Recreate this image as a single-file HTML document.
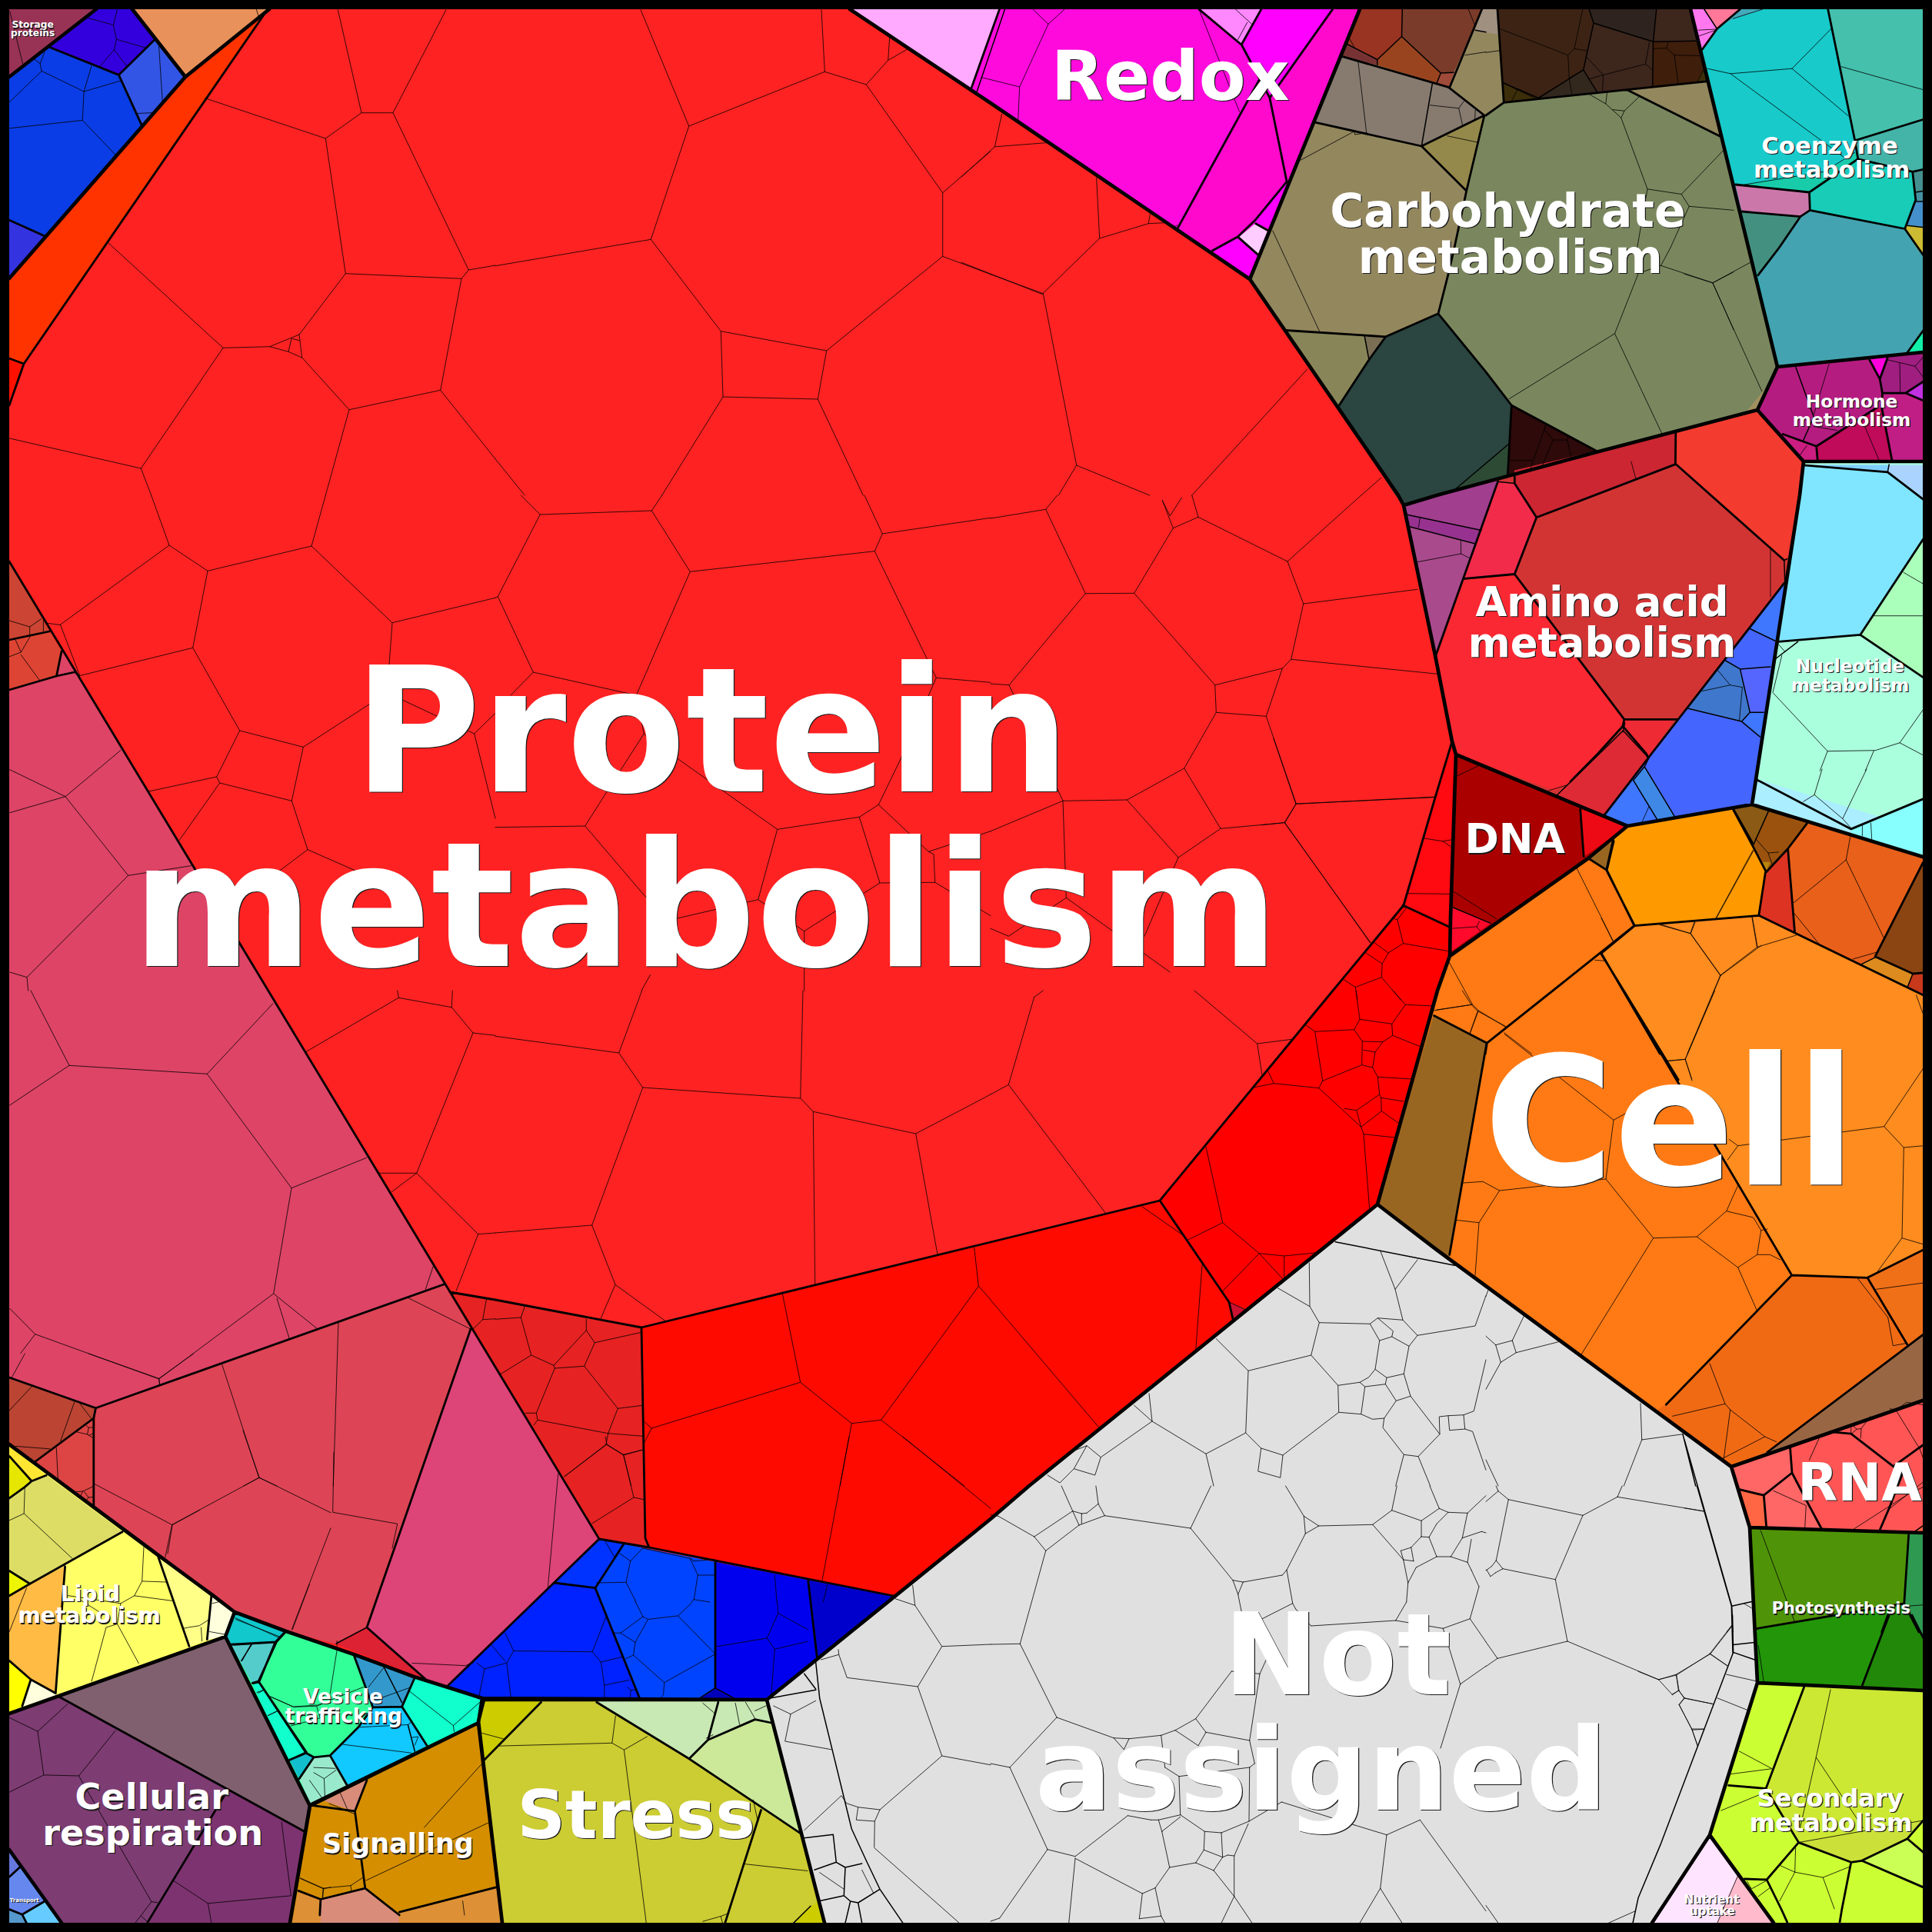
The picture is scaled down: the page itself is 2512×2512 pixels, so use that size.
<!DOCTYPE html><html><head><meta charset="utf-8"><title>Voronoi treemap</title><style>html,body{margin:0;padding:0;background:#000}svg{display:block}text{font-family:"DejaVu Sans","Liberation Sans",sans-serif;font-weight:bold;fill:#fff;text-anchor:middle}</style></head><body>
<svg width="2512" height="2512" viewBox="0 0 2512 2512">
<rect width="2512" height="2512" fill="#000"/>
<g stroke-linejoin="round">
<polygon fill="#FF2222" stroke="#FF2222" stroke-width="1" points="350.0,12.0 1105.0,12.0 1288.0,134.0 1625.0,363.0 1818.0,644.0 1825.0,657.0 1866.0,852.0 1888.0,964.0 1893.0,981.0 1886.0,1194.0 1885.0,1243.0 1869.0,1288.0 1791.0,1566.0 1338.0,1932.0 1288.0,1975.0 997.0,2210.0 627.0,2208.0 538.0,2180.0 460.0,2151.0 372.0,2121.0 305.0,2096.0 277.0,2074.5 207.0,2023.0 158.0,1986.5 60.0,1913.7 12.0,1878.0 12.0,362.0 241.0,100.0"/>
<polygon fill="#993355" stroke="#993355" stroke-width="1" points="12.0,12.0 125.0,12.0 12.0,100.0"/>
<polygon fill="#0A3DE5" stroke="#0A3DE5" stroke-width="1" points="125.0,12.0 172.0,12.0 241.0,100.0 12.0,362.0 12.0,100.0"/>
<polygon fill="#E8915A" stroke="#E8915A" stroke-width="1" points="172.0,12.0 350.0,12.0 241.0,100.0"/>
<polygon fill="#FF0ADD" stroke="#FF0ADD" stroke-width="1" points="1105.0,12.0 1768.0,12.0 1625.0,363.0 1288.0,134.0"/>
<polygon fill="#7A875E" stroke="#7A875E" stroke-width="1" points="1768.0,12.0 2198.0,12.0 2311.0,477.0 2285.0,533.0 2075.0,588.0 1868.0,644.0 1825.0,657.0 1818.0,644.0 1625.0,363.0"/>
<polygon fill="#18CACA" stroke="#18CACA" stroke-width="1" points="2198.0,12.0 2500.0,12.0 2500.0,458.0 2311.0,477.0"/>
<polygon fill="#B51C80" stroke="#B51C80" stroke-width="1" points="2311.0,477.0 2500.0,458.0 2500.0,600.0 2345.0,600.0 2285.0,533.0"/>
<polygon fill="#D23434" stroke="#D23434" stroke-width="1" points="1825.0,657.0 1868.0,644.0 2075.0,588.0 2285.0,533.0 2345.0,600.0 2340.0,644.0 2278.0,1046.0 2116.0,1074.0 1893.0,981.0 1888.0,964.0 1866.0,852.0"/>
<polygon fill="#AAFFDD" stroke="#AAFFDD" stroke-width="1" points="2345.0,600.0 2500.0,600.0 2500.0,1114.0 2278.0,1046.0 2340.0,644.0"/>
<polygon fill="#AA0000" stroke="#AA0000" stroke-width="1" points="1893.0,981.0 2116.0,1074.0 2065.0,1116.0 1885.0,1243.0 1886.0,1194.0"/>
<polygon fill="#FF7A14" stroke="#FF7A14" stroke-width="1" points="1885.0,1243.0 2065.0,1116.0 2116.0,1074.0 2278.0,1046.0 2500.0,1114.0 2500.0,1821.0 2251.0,1907.0 1868.0,1625.0 1791.0,1566.0 1869.0,1288.0"/>
<polygon fill="#FF5555" stroke="#FF5555" stroke-width="1" points="2251.0,1907.0 2500.0,1821.0 2500.0,1993.0 2275.0,1986.0"/>
<polygon fill="#4F9408" stroke="#4F9408" stroke-width="1" points="2275.0,1986.0 2500.0,1993.0 2500.0,2198.0 2285.0,2188.0"/>
<polygon fill="#CCFF33" stroke="#CCFF33" stroke-width="1" points="2285.0,2188.0 2500.0,2198.0 2500.0,2500.0 2306.0,2500.0 2223.0,2386.0"/>
<polygon fill="#FFE4FF" stroke="#FFE4FF" stroke-width="1" points="2223.0,2386.0 2306.0,2500.0 2148.0,2500.0"/>
<polygon fill="#E0E0E0" stroke="#E0E0E0" stroke-width="1" points="1791.0,1566.0 1868.0,1625.0 2251.0,1907.0 2275.0,1986.0 2285.0,2188.0 2223.0,2386.0 2148.0,2500.0 1072.0,2500.0 997.0,2210.0 1288.0,1975.0 1338.0,1932.0"/>
<polygon fill="#CCCC33" stroke="#CCCC33" stroke-width="1" points="997.0,2210.0 1072.0,2500.0 653.0,2500.0 622.0,2238.0 629.0,2210.0"/>
<polygon fill="#D48E00" stroke="#D48E00" stroke-width="1" points="622.0,2240.0 653.0,2500.0 377.0,2500.0 403.0,2347.0"/>
<polygon fill="#33FF99" stroke="#33FF99" stroke-width="1" points="305.0,2096.0 372.0,2121.0 460.0,2151.0 538.0,2180.0 627.0,2208.0 622.0,2240.0 403.0,2348.0 293.0,2128.0"/>
<polygon fill="#FFFF66" stroke="#FFFF66" stroke-width="1" points="12.0,1878.0 60.0,1913.7 158.0,1986.5 207.0,2023.0 277.0,2074.5 305.0,2096.0 293.0,2128.0 12.0,2228.0"/>
<polygon fill="#7D3C72" stroke="#7D3C72" stroke-width="1" points="12.0,2228.0 293.0,2128.0 403.0,2348.0 377.0,2500.0 80.0,2500.0 12.0,2405.0"/>
<polygon fill="#6688EE" stroke="#6688EE" stroke-width="1" points="12.0,2405.0 80.0,2500.0 12.0,2500.0"/>
<polygon fill="#FF3300" stroke="#FF3300" stroke-width="1" points="348.0,12.0 241.0,100.0 12.0,362.0 12.0,465.0 31.0,473.0"/>
<polygon fill="#FF1100" stroke="#FF1100" stroke-width="1" points="12.0,465.0 31.0,473.0 12.0,527.0"/>
<polygon fill="#CC4433" stroke="#CC4433" stroke-width="1" points="12.0,731.0 12.0,832.0 64.0,821.0"/>
<polygon fill="#DD4433" stroke="#DD4433" stroke-width="1" points="12.0,832.0 64.0,821.0 80.0,847.0 73.5,879.0 12.0,897.0"/>
<polygon fill="#DD4466" stroke="#DD4466" stroke-width="1" points="80.0,847.0 97.0,874.0 73.5,879.0"/>
<polygon fill="#DD4466" stroke="#DD4466" stroke-width="1" points="12.0,897.0 75.0,879.0 98.0,873.0 577.0,1670.0 123.0,1830.0 12.0,1791.0"/>
<polygon fill="#DD4455" stroke="#DD4455" stroke-width="1" points="124.5,1830.7 577.0,1670.0 612.0,1728.0 477.0,2116.0 437.0,2137.0 372.0,2121.0 305.0,2096.0 277.0,2074.5 207.0,2023.0 158.0,1986.5 121.8,1959.0"/>
<polygon fill="#BB4433" stroke="#BB4433" stroke-width="1" points="12.0,1791.0 124.5,1830.7 121.8,1844.0 45.0,1902.0 12.0,1878.0"/>
<polygon fill="#DD4444" stroke="#DD4444" stroke-width="1" points="121.8,1844.0 121.8,1959.0 60.0,1913.7 45.0,1902.0"/>
<polygon fill="#DD4477" stroke="#DD4477" stroke-width="1" points="612.0,1728.0 779.0,2001.0 582.0,2192.0 553.0,2183.0 477.0,2116.0"/>
<polygon fill="#DD2233" stroke="#DD2233" stroke-width="1" points="477.0,2116.0 437.0,2137.0 553.0,2183.0"/>
<polygon fill="#E62222" stroke="#E62222" stroke-width="1" points="585.0,1680.0 644.0,1690.0 834.0,1726.0 839.0,2000.0 844.0,2012.0 779.0,2001.0"/>
<polygon fill="#FF0A00" stroke="#FF0A00" stroke-width="1" points="834.0,1726.0 1288.0,1615.0 1508.0,1561.0 1598.0,1693.0 1603.0,1715.0 1338.0,1932.0 1288.0,1975.0 1162.0,2075.0 844.0,2012.0 839.0,2000.0"/>
<polygon fill="#FF0000" stroke="#FF0000" stroke-width="1" points="1508.0,1561.0 1733.0,1288.0 1825.0,1177.0 1866.0,1037.0 1888.0,964.0 1893.0,981.0 1886.0,1194.0 1885.0,1243.0 1869.0,1288.0 1791.0,1566.0 1603.0,1715.0 1598.0,1693.0"/>
<polygon fill="#0033FF" stroke="#0033FF" stroke-width="1" points="779.0,2001.3 810.7,2008.0 774.0,2064.7 720.7,2058.0"/>
<polygon fill="#0022FF" stroke="#0022FF" stroke-width="1" points="720.7,2058.0 774.0,2064.7 832.3,2209.7 624.0,2209.7 580.7,2194.7 644.0,2131.3"/>
<polygon fill="#0044FF" stroke="#0044FF" stroke-width="1" points="810.7,2008.0 930.0,2031.3 930.0,2194.7 907.3,2209.7 832.3,2209.7 774.0,2064.7"/>
<polygon fill="#0000EE" stroke="#0000EE" stroke-width="1" points="930.0,2031.3 1050.7,2054.7 1062.3,2154.7 997.3,2209.7 957.3,2209.7 930.0,2194.7"/>
<polygon fill="#0000CC" stroke="#0000CC" stroke-width="1" points="1050.7,2054.7 1162.3,2074.7 1062.3,2154.7"/>
<polygon fill="#0000BB" stroke="#0000BB" stroke-width="1" points="907.3,2209.7 930.0,2194.7 957.3,2209.7"/>
<polygon fill="#3300DD" stroke="#3300DD" stroke-width="1" points="125.9,12.2 171.1,12.2 200.6,52.1 154.4,97.4 65.9,62.0"/>
<polygon fill="#3355E5" stroke="#3355E5" stroke-width="1" points="200.6,52.1 240.9,99.3 184.9,164.2 154.4,97.4"/>
<polygon fill="#3333E0" stroke="#3333E0" stroke-width="1" points="12.2,286.2 60.0,307.8 12.2,362.9"/>
<polygon fill="#93875E" stroke="#93875E" stroke-width="1" points="1766.7,12.0 1932.0,12.0 1932.0,150.0 1906.7,248.3 1893.3,322.0 1870.0,407.8 1801.7,437.8 1672.5,429.5 1625.8,362.0"/>
<polygon fill="#993322" stroke="#993322" stroke-width="1" points="1766.7,12.0 1823.3,12.0 1822.5,47.5 1790.8,77.5 1750.8,56.7"/>
<polygon fill="#773333" stroke="#773333" stroke-width="1" points="1750.8,56.7 1790.8,77.5 1790.8,84.2 1745.0,73.3 1743.3,71.7"/>
<polygon fill="#99441F" stroke="#99441F" stroke-width="1" points="1822.5,47.5 1873.3,95.0 1868.3,107.5 1790.8,84.2 1790.8,77.5"/>
<polygon fill="#7A3B2A" stroke="#7A3B2A" stroke-width="1" points="1823.3,12.0 1926.7,12.0 1890.0,94.2 1873.3,95.0 1822.5,47.5"/>
<polygon fill="#A04A3A" stroke="#A04A3A" stroke-width="1" points="1873.3,95.0 1890.0,94.2 1883.3,113.3 1868.3,107.5"/>
<polygon fill="#A09080" stroke="#A09080" stroke-width="1" points="1926.7,12.0 1947.0,12.0 1947.8,45.0 1932.0,42.5 1918.3,39.2"/>
<polygon fill="#877B70" stroke="#877B70" stroke-width="1" points="1745.0,73.3 1883.3,113.3 1930.0,150.0 1848.3,190.0 1710.0,159.2"/>
<polygon fill="#94894B" stroke="#94894B" stroke-width="1" points="1848.3,190.0 1930.0,150.0 1906.7,248.3"/>
<polygon fill="#7A875E" stroke="#7A875E" stroke-width="1" points="1932.0,150.0 1955.3,133.3 2117.0,117.5 2237.0,177.5 2311.0,477.0 2285.0,533.0 2077.0,587.0 1965.3,527.0 1932.0,483.7 1870.0,407.8 1883.3,355.3 1893.3,322.0 1906.7,248.3 1930.0,150.0"/>
<polygon fill="#93875E" stroke="#93875E" stroke-width="1" points="1930.3,42.5 1947.8,45.0 1955.3,133.3 1930.3,150.8"/>
<polygon fill="#3D2314" stroke="#3D2314" stroke-width="1" points="1947.0,12.0 2197.0,12.0 2218.7,105.8 1955.3,133.3"/>
<polygon fill="#2E231F" stroke="#2E231F" stroke-width="1" points="2066.2,12.0 2153.7,12.0 2149.5,54.2 2072.0,30.0"/>
<polygon fill="#3D261C" stroke="#3D261C" stroke-width="1" points="2072.0,30.0 2149.5,54.2 2148.7,111.7 2076.2,119.2 2058.7,90.8"/>
<polygon fill="#3D261C" stroke="#3D261C" stroke-width="1" points="2153.7,12.0 2197.0,12.0 2205.3,53.3 2149.5,54.2"/>
<polygon fill="#3F1E0B" stroke="#3F1E0B" stroke-width="1" points="2149.5,54.2 2205.3,53.3 2215.3,90.0 2218.7,105.8 2148.7,111.7"/>
<polygon fill="#33281E" stroke="#33281E" stroke-width="1" points="2058.7,90.8 2076.2,119.2 2000.3,127.5"/>
<polygon fill="#3D2E0A" stroke="#3D2E0A" stroke-width="1" points="1955.3,108.3 2000.3,127.5 1955.3,133.3"/>
<polygon fill="#3D2E0A" stroke="#3D2E0A" stroke-width="1" points="2215.3,90.0 2218.7,105.8 2207.0,106.7"/>
<polygon fill="#93875E" stroke="#93875E" stroke-width="1" points="2117.0,117.5 2218.7,106.7 2237.0,177.5"/>
<polygon fill="#2B4540" stroke="#2B4540" stroke-width="1" points="1801.7,437.8 1870.0,407.8 1932.0,483.7 1965.3,527.0 1960.3,618.7 1860.0,644.5 1825.0,657.0 1815.0,644.0 1740.0,528.7 1780.0,467.8"/>
<polygon fill="#888558" stroke="#888558" stroke-width="1" points="1672.5,429.5 1774.2,437.0 1780.0,467.8 1740.0,528.7"/>
<polygon fill="#7A6F55" stroke="#7A6F55" stroke-width="1" points="1774.2,437.0 1801.7,437.8 1780.0,467.8"/>
<polygon fill="#2E0A0A" stroke="#2E0A0A" stroke-width="1" points="1965.3,527.0 2077.0,587.0 1960.3,618.7"/>
<polygon fill="#2D4A35" stroke="#2D4A35" stroke-width="1" points="1962.0,577.0 1960.3,618.7 1892.0,637.0 1893.3,635.3"/>
<polygon fill="#FFAAFF" stroke="#FFAAFF" stroke-width="1" points="1104.7,12.1 1299.5,12.1 1263.1,114.1"/>
<polygon fill="#FF88FF" stroke="#FF88FF" stroke-width="1" points="1562.0,12.1 1639.8,12.1 1614.5,57.5"/>
<polygon fill="#FF00FF" stroke="#FF00FF" stroke-width="1" points="1639.8,12.1 1732.6,12.1 1650.9,127.2 1614.5,58.5"/>
<polygon fill="#FF0ACC" stroke="#FF0ACC" stroke-width="1" points="1732.6,12.1 1764.9,12.1 1674.1,236.2 1673.1,236.2 1650.9,127.2"/>
<polygon fill="#FF0ACC" stroke="#FF0ACC" stroke-width="1" points="1614.5,58.5 1650.9,127.2 1673.1,236.2 1631.7,286.6 1609.5,307.8 1576.2,326.0 1531.8,295.7 1637.9,102.7"/>
<polygon fill="#FF00FF" stroke="#FF00FF" stroke-width="1" points="1673.1,237.2 1651.9,296.7 1632.7,289.7 1631.7,286.6"/>
<polygon fill="#FFCCFF" stroke="#FFCCFF" stroke-width="1" points="1632.7,290.7 1648.8,299.8 1636.7,331.1 1610.5,308.9"/>
<polygon fill="#FF00FF" stroke="#FF00FF" stroke-width="1" points="1576.2,326.0 1609.5,308.4 1636.7,332.1 1625.6,361.3"/>
<polygon fill="#FF77EE" stroke="#FF77EE" stroke-width="1" points="2198.3,12.0 2216.7,12.0 2232.5,37.5 2213.3,64.2"/>
<polygon fill="#FF7799" stroke="#FF7799" stroke-width="1" points="2216.7,12.0 2262.5,12.0 2232.5,37.0"/>
<polygon fill="#44AABB" stroke="#44AABB" stroke-width="1" points="2262.5,12.0 2291.7,12.0 2253.3,24.2 2240.0,31.7"/>
<polygon fill="#44C0AC" stroke="#44C0AC" stroke-width="1" points="2376.7,12.0 2501.7,12.0 2501.7,155.0 2412.5,182.5"/>
<polygon fill="#44B3A8" stroke="#44B3A8" stroke-width="1" points="2412.5,182.5 2501.7,155.0 2501.7,220.0 2486.7,223.3 2415.0,206.7"/>
<polygon fill="#18CCAA" stroke="#18CCAA" stroke-width="1" points="2268.3,240.0 2371.7,223.3 2398.3,209.2 2411.7,198.3 2415.0,207.5 2352.5,250.0"/>
<polygon fill="#18CCB8" stroke="#18CCB8" stroke-width="1" points="2352.5,250.0 2415.0,207.5 2486.7,223.3 2490.8,260.0 2476.7,297.5 2353.3,273.3"/>
<polygon fill="#CC77AA" stroke="#CC77AA" stroke-width="1" points="2256.7,240.0 2352.5,250.0 2353.3,273.3 2340.8,281.7 2265.0,275.0"/>
<polygon fill="#449080" stroke="#449080" stroke-width="1" points="2265.0,275.0 2340.8,281.7 2313.3,322.0 2285.8,357.8 2273.3,322.0"/>
<polygon fill="#44A3B0" stroke="#44A3B0" stroke-width="1" points="2340.8,281.7 2353.3,273.3 2476.7,297.5 2501.7,333.3 2501.7,428.3 2480.0,458.3 2311.7,475.3 2285.8,357.8 2313.3,322.0"/>
<polygon fill="#449090" stroke="#449090" stroke-width="1" points="2486.7,223.3 2501.7,220.0 2501.7,248.3 2490.0,250.0"/>
<polygon fill="#4490A0" stroke="#4490A0" stroke-width="1" points="2490.0,250.0 2501.7,248.3 2501.7,262.5 2491.3,262.0"/>
<polygon fill="#4490CC" stroke="#4490CC" stroke-width="1" points="2491.3,262.0 2501.7,262.0 2501.7,295.8 2480.0,293.3 2477.0,297.5"/>
<polygon fill="#CCBB33" stroke="#CCBB33" stroke-width="1" points="2477.0,297.5 2480.0,293.3 2501.7,295.8 2501.7,334.2 2492.5,322.0"/>
<polygon fill="#11EEAA" stroke="#11EEAA" stroke-width="1" points="2480.0,458.3 2501.7,429.2 2501.7,456.7"/>
<polygon fill="#FF00DD" stroke="#FF00DD" stroke-width="1" points="2430.8,467.8 2454.2,465.3 2444.2,492.8"/>
<polygon fill="#A01E80" stroke="#A01E80" stroke-width="1" points="2454.2,465.3 2501.7,460.3 2501.7,495.3 2477.5,511.2 2447.5,511.2 2444.2,492.8"/>
<polygon fill="#C030E0" stroke="#C030E0" stroke-width="1" points="2480.0,512.0 2501.7,497.8 2501.7,521.2"/>
<polygon fill="#C01E85" stroke="#C01E85" stroke-width="1" points="2447.5,511.2 2477.5,513.7 2501.7,523.7 2501.7,599.5 2460.0,597.8 2446.7,530.3"/>
<polygon fill="#C00A5A" stroke="#C00A5A" stroke-width="1" points="2361.7,580.3 2440.0,530.3 2446.7,530.3 2460.0,599.5 2363.3,599.5"/>
<polygon fill="#CC1E80" stroke="#CC1E80" stroke-width="1" points="2318.3,564.5 2360.0,580.3 2361.7,599.5 2343.3,599.5"/>
<polygon fill="#A09060" stroke="#A09060" stroke-width="1" points="2271.7,534.5 2298.3,502.0 2285.0,534.5"/>
<polygon fill="#CC2633" stroke="#CC2633" stroke-width="1" points="1969.3,612.0 2178.7,562.0 2178.7,603.7 1997.8,672.8 1969.3,628.5"/>
<polygon fill="#F43B30" stroke="#F43B30" stroke-width="1" points="2178.7,562.0 2285.0,534.5 2343.3,602.0 2340.0,644.0 2322.8,728.5 2319.8,728.5 2178.7,603.7"/>
<polygon fill="#A13E8E" stroke="#A13E8E" stroke-width="1" points="1823.8,656.1 1947.7,625.6 1926.0,689.5 1829.7,669.2"/>
<polygon fill="#983290" stroke="#983290" stroke-width="1" points="1829.7,669.2 1926.0,689.5 1919.2,707.2 1830.7,684.2"/>
<polygon fill="#A94A8C" stroke="#A94A8C" stroke-width="1" points="1830.7,684.2 1919.2,707.2 1867.0,851.8"/>
<polygon fill="#F22B4B" stroke="#F22B4B" stroke-width="1" points="1947.7,625.6 1969.3,628.5 1997.8,672.8 1969.3,746.5 1904.4,752.4"/>
<polygon fill="#FA2832" stroke="#FA2832" stroke-width="1" points="1904.4,752.4 1969.3,746.5 2111.9,935.4 2109.9,944.2 2077.5,980.0 2042.1,1016.0 2021.4,1027.8 1894.6,980.0 1868.0,853.7"/>
<polygon fill="#4466FF" stroke="#4466FF" stroke-width="1" points="2319.8,759.2 2288.2,982.0 2276.3,1045.9 2116.2,1073.5 2086.1,1059.7 2145.8,982.0"/>
<polygon fill="#3F77FF" stroke="#3F77FF" stroke-width="1" points="2319.8,759.2 2314.9,797.7 2308.0,833.3 2275.3,817.5"/>
<polygon fill="#5566FF" stroke="#5566FF" stroke-width="1" points="2262.5,869.9 2302.0,866.9 2293.1,926.2 2275.3,926.2"/>
<polygon fill="#3F77CC" stroke="#3F77CC" stroke-width="1" points="2243.7,859.0 2262.5,869.9 2275.3,926.2 2264.5,938.1 2195.2,921.3"/>
<polygon fill="#3F77FF" stroke="#3F77FF" stroke-width="1" points="2275.3,926.2 2293.1,926.2 2288.2,957.9 2264.5,938.1"/>
<polygon fill="#80E6FF" stroke="#80E6FF" stroke-width="1" points="2345.5,604.9 2454.3,613.8 2500.7,649.4 2500.7,700.8 2418.7,825.4 2311.9,834.3"/>
<polygon fill="#80D0FF" stroke="#80D0FF" stroke-width="1" points="2345.5,604.9 2455.3,604.9 2454.3,613.4"/>
<polygon fill="#AAD4FF" stroke="#AAD4FF" stroke-width="1" points="2456.2,604.9 2501.7,604.9 2501.7,648.4 2455.3,613.8"/>
<polygon fill="#AAFFBB" stroke="#AAFFBB" stroke-width="1" points="2501.7,701.8 2501.7,880.8 2418.7,825.4"/>
<polygon fill="#DD2A35" stroke="#DD2A35" stroke-width="1" points="2024.7,1033.5 2110.4,950.0 2142.7,984.5 2085.9,1059.1"/>
<polygon fill="#EE2A35" stroke="#EE2A35" stroke-width="1" points="2111.9,935.3 2176.0,935.3 2142.7,984.5 2110.4,950.0"/>
<polygon fill="#3F77FF" stroke="#3F77FF" stroke-width="1" points="2123.7,1014.6 2154.9,1065.8 2116.0,1073.5 2085.9,1059.1"/>
<polygon fill="#4088E5" stroke="#4088E5" stroke-width="1" points="2123.7,1014.6 2138.2,996.8 2177.2,1061.3 2154.9,1065.8"/>
<polygon fill="#AAEEFF" stroke="#AAEEFF" stroke-width="1" points="2282.9,1013.4 2291.8,1015.7 2501.0,1080.2 2501.0,1115.8 2278.4,1045.7"/>
<polygon fill="#EE0A14" stroke="#EE0A14" stroke-width="1" points="2054.7,1052.4 2116.0,1073.5 2059.2,1113.6"/>
<polygon fill="#FF0A2D" stroke="#FF0A2D" stroke-width="1" points="1887.8,1179.3 1937.9,1200.4 1887.8,1236.0"/>
<polygon fill="#996622" stroke="#996622" stroke-width="1" points="2064.8,1115.8 2098.1,1093.6 2089.2,1131.4"/>
<polygon fill="#FF9900" stroke="#FF9900" stroke-width="1" points="2098.1,1093.6 2116.0,1073.5 2253.9,1052.4 2278.4,1095.8 2302.9,1141.4 2287.3,1190.4 2124.9,1203.7 2089.2,1131.4"/>
<polygon fill="#8B5A14" stroke="#8B5A14" stroke-width="1" points="2253.9,1052.4 2276.2,1045.7 2327.4,1061.3 2305.1,1109.2 2289.6,1115.8 2278.4,1095.8"/>
<polygon fill="#FF8C1E" stroke="#FF8C1E" stroke-width="1" points="2125.0,1204.0 2287.0,1190.0 2501.0,1294.0 2501.0,1625.0 2428.0,1661.0 2330.0,1658.0 2082.0,1240.0"/>
<polygon fill="#FF9900" stroke="#FF9900" stroke-width="1" points="2097.6,1091.3 2115.4,1073.4 2253.4,1052.3 2279.0,1100.2 2295.7,1132.4 2286.8,1190.3 2125.4,1203.6 2088.7,1131.3"/>
<polygon fill="#8B5A14" stroke="#8B5A14" stroke-width="1" points="2253.4,1052.3 2276.7,1046.7 2299.0,1055.6 2279.0,1100.2"/>
<polygon fill="#9B520E" stroke="#9B520E" stroke-width="1" points="2299.0,1055.6 2349.1,1071.2 2324.6,1103.5 2296.8,1133.5 2279.0,1100.2"/>
<polygon fill="#DD3322" stroke="#DD3322" stroke-width="1" points="2296.8,1133.5 2324.6,1103.5 2333.5,1211.4 2286.8,1190.3"/>
<polygon fill="#E8601A" stroke="#E8601A" stroke-width="1" points="2324.6,1103.5 2349.1,1071.2 2501.5,1116.8 2501.5,1122.4 2439.2,1243.7 2420.3,1253.7 2333.5,1211.4"/>
<polygon fill="#8B4513" stroke="#8B4513" stroke-width="1" points="2501.5,1122.4 2501.5,1264.9 2487.1,1266.0 2438.1,1244.8"/>
<polygon fill="#DD8B1E" stroke="#DD8B1E" stroke-width="1" points="2438.1,1244.8 2487.1,1266.0 2480.4,1282.7 2420.3,1253.7"/>
<polygon fill="#C8381A" stroke="#C8381A" stroke-width="1" points="2487.1,1266.0 2501.5,1264.9 2501.5,1294.2 2480.4,1282.7"/>
<polygon fill="#B8860B" stroke="#B8860B" stroke-width="1" points="2292.3,1121.3 2301.2,1121.3 2296.8,1131.3"/>
<polygon fill="#AAEEFF" stroke="#AAEEFF" stroke-width="1" points="2282.3,1013.4 2406.9,1077.9 2404.7,1084.6 2277.9,1045.6"/>
<polygon fill="#88FFFF" stroke="#88FFFF" stroke-width="1" points="2408.1,1076.8 2501.5,1038.9 2501.5,1114.6 2405.8,1084.6"/>
<polygon fill="#996622" stroke="#996622" stroke-width="1" points="1864.0,1320.7 1933.0,1356.3 1883.7,1634.7 1791.3,1566.3"/>
<polygon fill="#F06A14" stroke="#F06A14" stroke-width="1" points="2329.7,1658.0 2428.0,1661.3 2479.7,1748.0 2298.0,1888.0 2251.3,1906.3 2153.0,1834.7 2166.3,1826.3"/>
<polygon fill="#F07018" stroke="#F07018" stroke-width="1" points="2428.0,1661.3 2503.0,1624.7 2503.0,1734.7 2479.7,1748.0"/>
<polygon fill="#996644" stroke="#996644" stroke-width="1" points="2298.0,1888.0 2503.0,1733.0 2503.0,1821.3 2251.3,1906.3"/>
<polygon fill="#FFE633" stroke="#FFE633" stroke-width="1" points="12.2,1881.1 60.1,1918.3 41.2,1925.7 12.2,1893.4"/>
<polygon fill="#E6E600" stroke="#E6E600" stroke-width="1" points="12.2,1893.4 41.2,1925.7 32.3,1933.4 12.2,1947.9"/>
<polygon fill="#DDDD66" stroke="#DDDD66" stroke-width="1" points="41.2,1925.7 60.1,1918.3 159.1,1991.8 38.9,2059.2 12.2,2042.5 12.2,1947.9 32.3,1933.4"/>
<polygon fill="#EEF500" stroke="#EEF500" stroke-width="1" points="12.2,2042.5 38.9,2059.2 12.2,2074.8"/>
<polygon fill="#FFBB44" stroke="#FFBB44" stroke-width="1" points="12.2,2074.8 38.9,2059.2 84.6,2036.9 72.3,2201.6 40.1,2183.8 12.2,2159.4"/>
<polygon fill="#FFFF66" stroke="#FFFF66" stroke-width="1" points="84.6,2036.9 159.1,1991.8 205.9,2024.7 245.9,2140.4 73.4,2201.6"/>
<polygon fill="#FFFF88" stroke="#FFFF88" stroke-width="1" points="205.9,2024.7 274.9,2074.8 269.3,2131.5 245.9,2140.4"/>
<polygon fill="#FFFFDD" stroke="#FFFFDD" stroke-width="1" points="276.0,2075.9 306.0,2094.8 293.8,2126.0 270.4,2131.5"/>
<polygon fill="#FFFF00" stroke="#FFFF00" stroke-width="1" points="12.2,2159.4 40.1,2183.8 28.9,2218.3 12.2,2225.0"/>
<polygon fill="#FFFFDD" stroke="#FFFFDD" stroke-width="1" points="40.1,2183.8 72.3,2201.6 73.4,2205.0 30.0,2218.3"/>
<polygon fill="#11C8CC" stroke="#11C8CC" stroke-width="1" points="306.0,2095.9 370.6,2122.6 359.4,2134.9 300.5,2138.2 293.8,2126.0"/>
<polygon fill="#55CCCC" stroke="#55CCCC" stroke-width="1" points="300.5,2138.2 359.4,2134.9 336.1,2186.1 328.3,2188.3"/>
<polygon fill="#11FFCC" stroke="#11FFCC" stroke-width="1" points="328.3,2188.3 336.1,2186.1 398.4,2278.4 373.9,2290.0"/>
<polygon fill="#11C8CC" stroke="#11C8CC" stroke-width="1" points="295.6,2124.5 305.6,2096.7 371.3,2122.3 357.9,2135.2 303.4,2138.3"/>
<polygon fill="#55CCCC" stroke="#55CCCC" stroke-width="1" points="303.4,2138.3 357.9,2135.2 336.8,2186.9 329.0,2189.1"/>
<polygon fill="#3399CC" stroke="#3399CC" stroke-width="1" points="460.3,2152.4 539.3,2181.3 522.6,2219.1 485.9,2219.1 477.0,2193.5"/>
<polygon fill="#11FFCC" stroke="#11FFCC" stroke-width="1" points="539.3,2181.3 627.2,2211.3 620.6,2239.8 554.9,2269.2 522.6,2219.1"/>
<polygon fill="#11FFCC" stroke="#11FFCC" stroke-width="1" points="329.0,2189.1 336.8,2186.9 398.0,2279.2 376.8,2288.1"/>
<polygon fill="#11C8FF" stroke="#11C8FF" stroke-width="1" points="485.9,2220.2 522.6,2219.1 554.9,2269.2 451.4,2321.5 429.2,2282.6 465.9,2245.8"/>
<polygon fill="#11C0CC" stroke="#11C0CC" stroke-width="1" points="376.8,2288.1 398.0,2279.2 408.0,2284.8 389.1,2312.6"/>
<polygon fill="#99EACC" stroke="#99EACC" stroke-width="1" points="408.0,2284.8 429.2,2282.6 451.4,2321.5 404.7,2346.0 390.2,2313.7"/>
<polygon fill="#D98C7A" stroke="#D98C7A" stroke-width="1" points="422.5,2341.5 478.1,2313.7 461.4,2354.9"/>
<polygon fill="#D98C7A" stroke="#D98C7A" stroke-width="1" points="416.9,2469.5 474.8,2455.1 519.3,2490.0 519.3,2500.7 416.9,2500.7"/>
<polygon fill="#DD9035" stroke="#DD9035" stroke-width="1" points="388.0,2458.4 416.9,2469.5 415.8,2500.7 380.2,2500.7"/>
<polygon fill="#DD9035" stroke="#DD9035" stroke-width="1" points="519.3,2486.2 645.0,2453.9 653.9,2500.7 519.3,2500.7"/>
<polygon fill="#7D3370" stroke="#7D3370" stroke-width="1" points="296.7,2326.4 396.2,2381.4 376.1,2501.5 191.4,2501.5"/>
<polygon fill="#80606E" stroke="#80606E" stroke-width="1" points="75.7,2205.5 293.8,2126.5 401.7,2350.2 396.2,2381.4"/>
<polygon fill="#6677DD" stroke="#6677DD" stroke-width="1" points="11.1,2403.6 26.7,2427.0 11.1,2440.3"/>
<polygon fill="#6688EE" stroke="#6688EE" stroke-width="1" points="11.1,2440.3 26.7,2427.0 59.0,2471.5 28.9,2489.3 11.1,2482.6"/>
<polygon fill="#5599CC" stroke="#5599CC" stroke-width="1" points="11.1,2482.6 28.9,2489.3 34.5,2501.5 11.1,2501.5"/>
<polygon fill="#66CCFF" stroke="#66CCFF" stroke-width="1" points="28.9,2489.3 59.0,2471.5 80.1,2501.5 34.5,2501.5"/>
<polygon fill="#CCCC00" stroke="#CCCC00" stroke-width="1" points="630.0,2212.2 703.5,2212.2 630.0,2287.9 623.3,2237.8"/>
<polygon fill="#C8E8B4" stroke="#C8E8B4" stroke-width="1" points="775.8,2212.2 998.4,2212.2 1002.8,2240.0 981.7,2235.6 920.5,2262.3 896.0,2286.8"/>
<polygon fill="#CCE899" stroke="#CCE899" stroke-width="1" points="920.5,2262.3 981.7,2235.6 1002.8,2240.0 1040.7,2383.6 896.0,2286.8"/>
<polygon fill="#CCCC00" stroke="#CCCC00" stroke-width="1" points="1050.0,2482.6 1034.0,2501.5 1070.7,2501.5 1065.1,2471.5"/>
<polygon fill="#FF6666" stroke="#FF6666" stroke-width="1" points="2252.5,1908.3 2327.5,1881.7 2330.0,1915.0 2293.3,1944.2 2261.7,1936.7"/>
<polygon fill="#FF6644" stroke="#FF6644" stroke-width="1" points="2261.7,1936.7 2293.3,1944.2 2296.7,1986.3 2274.2,1985.8"/>
<polygon fill="#FF6666" stroke="#FF6666" stroke-width="1" points="2293.3,1944.2 2330.0,1915.0 2350.0,1953.3 2368.3,1987.5 2296.7,1986.3"/>
<polygon fill="#FF6644" stroke="#FF6644" stroke-width="1" points="2490.0,1992.5 2501.7,1983.3 2501.7,1993.3"/>
<polygon fill="#4F9408" stroke="#4F9408" stroke-width="1" points="2275.0,1987.5 2481.7,1995.0 2475.8,2085.0 2284.2,2117.5"/>
<polygon fill="#2E9950" stroke="#2E9950" stroke-width="1" points="2481.7,1995.0 2501.7,1995.8 2501.7,2135.0 2495.0,2122.0 2475.8,2085.8"/>
<polygon fill="#229508" stroke="#229508" stroke-width="1" points="2284.2,2117.5 2458.3,2090.0 2446.7,2122.0 2420.7,2192.8 2285.0,2188.0"/>
<polygon fill="#22880A" stroke="#22880A" stroke-width="1" points="2458.3,2090.0 2475.8,2085.0 2495.0,2122.0 2501.7,2135.0 2501.7,2197.5 2420.7,2192.8 2446.7,2122.0"/>
<polygon fill="#2E9950" stroke="#2E9950" stroke-width="1" points="2485.9,2100.0 2501.7,2100.0 2501.7,2129.7"/>
<polygon fill="#CCE833" stroke="#CCE833" stroke-width="1" points="2345.5,2193.9 2501.7,2200.8 2501.7,2366.9 2480.0,2390.7 2420.7,2419.3 2406.8,2421.3 2338.6,2395.6 2296.1,2325.4"/>
<polygon fill="#CCE03A" stroke="#CCE03A" stroke-width="1" points="2338.6,2395.6 2501.7,2366.9 2480.0,2390.7 2420.7,2419.3 2406.8,2421.3"/>
<polygon fill="#CCFF55" stroke="#CCFF55" stroke-width="1" points="2420.7,2419.3 2480.0,2390.7 2501.7,2408.4 2501.7,2453.9"/>
<polygon fill="#FFBBCC" stroke="#FFBBCC" stroke-width="1" points="2259.5,2439.1 2294.1,2482.0 2306.0,2500.4 2232.8,2500.4 2240.7,2482.0"/>
<polygon fill="#CC1133" stroke="#CC1133" stroke-width="1" points="1598.0,1693.0 1619.7,1703.0 1603.0,1714.7"/>
<polygon fill="#FF0A10" stroke="#FF0A10" stroke-width="1" points="1888.0,964.0 1893.0,981.0 1886.0,1194.0 1884.0,1205.0 1824.0,1177.0 1866.0,1037.0"/>
</g>
<path fill="none" stroke="#000" stroke-width="0.8" stroke-linejoin="round" stroke-linecap="round" d="M12.2 807.0L38.7 815.0L53.5 804.8M38.7 815.0L38.7 825.8M56.4 807.0L56.4 820.7M19.9 831.5L27.3 848.0L39.9 826.4M27.3 848.0L12.2 853.7M27.3 851.4L51.8 885.0M60.4 810.2L78.6 812.5M78.6 812.5L103.6 878.2L97.9 875.9M12.1 1834.0L41.7 1802.4M96.9 1822.6L78.7 1873.7M103.6 1824.6L119.1 1844.8M20.2 1880.4L64.6 1883.8M73.3 1882.5L75.4 1923.5M98.9 1861.6L113.7 1865.0L115.1 1856.2L111.7 1852.9M115.1 1856.2L121.8 1855.8M113.7 1865.0L121.1 1869.7M115.7 1866.3L121.8 1863.6M121.8 1932.3L107.7 1939.0L98.9 1939.7M107.7 1939.0L105.0 1944.4M109.7 1939.7L115.1 1947.1L121.1 1946.4M115.1 1947.1L112.4 1950.4M32.3 1760.0L15.5 1790.7M115.1 1760.0L206.6 1792.3L251.7 1760.0M206.6 1792.3L207.9 1800.4M123.1 1929.6L224.1 1982.7L260.0 1963.2M224.1 1982.7L218.0 2020.0M115.1 23.6L147.5 32.5L152.4 12.2M147.5 32.5L151.4 51.1L188.8 62.0M151.4 51.1L148.5 64.9L129.8 86.5M148.5 64.9L165.2 86.5M206.5 59.0L211.4 133.7M178.0 147.5L200.6 146.5M58.0 67.9L52.1 82.6L54.1 92.4L109.2 119.0L119.0 85.6M109.2 119.0L156.4 105.2M109.2 119.0L107.2 156.4L12.2 166.8M107.2 156.4L151.4 202.6M54.1 92.4L12.2 132.8M44.3 76.7L52.1 82.6M12.8 14.8L29.5 82.6M333.4 12.2L336.3 21.6M1755.0 50.8L1760.8 61.3M1909.2 12.0L1917.5 32.5M1905.0 71.7L1932.0 67.5M1765.8 80.0L1776.7 172.5M1859.2 136.7L1896.7 140.8L1903.3 131.7M1896.7 140.8L1901.7 163.3M1918.3 143.3L1917.5 155.8M1760.8 170.8L1690.8 208.3M1760.8 170.8L1761.7 175.0L1776.7 172.5M1881.7 176.7L1920.8 185.0M1950.3 37.5L2038.7 71.7L2047.0 63.3L2057.8 12.0M2047.0 63.3L2062.8 65.8M2038.7 71.7L2040.3 101.7L2058.7 90.8M2040.3 101.7L2043.7 122.5M2062.0 73.3L2084.5 97.5L2139.5 83.3L2144.5 55.0M2139.5 83.3L2148.7 90.8M2084.5 97.5L2067.0 102.5M2084.5 97.5L2083.7 117.5M2150.3 63.3L2167.0 62.5L2168.7 55.8M2167.0 62.5L2177.0 71.7L2213.7 72.5M2177.0 71.7L2182.0 108.3M1965.3 131.7L1972.8 116.7L1955.3 107.5M1972.8 116.7L1995.3 127.5M1932.0 68.3L1949.5 65.8M2215.3 90.0L2207.0 106.7M2066.2 122.5L2087.8 135.0L2089.5 120.8M2087.8 135.0L2096.2 142.5L2112.0 144.2L2131.2 125.8M2096.2 142.5L2107.8 153.3L2112.0 144.2M2107.8 153.3L2142.0 245.8L2186.2 252.5L2241.2 195.0M2186.2 252.5L2196.2 268.3L2254.0 273.3M2142.0 245.8L2128.7 322.0L2130.3 355.3M2196.2 268.3L2172.0 322.0M1654.7 300.0L1715.8 431.2M2009.5 553.7L1988.7 612.8M2009.5 553.7L2007.8 558.7L2019.5 572.0L2037.8 572.0L2038.7 567.8M2019.5 572.0L2005.3 605.3M2037.8 572.0L2042.8 595.3M1962.8 598.7L1992.0 598.7M1962.0 518.7L2099.5 433.7L2130.3 355.3L2159.5 345.3L2172.0 322.0M2159.5 345.3L2227.0 367.8L2254.0 353.7M2227.0 367.8L2254.0 428.7M2099.5 433.7L2161.2 564.5M1342.9 12.1L1363.0 31.3L1384.2 12.1M1363.0 31.3L1325.7 113.0L1277.3 100.9M1325.7 113.0L1323.7 156.4M1559.0 12.1L1611.5 145.3M1606.4 12.1L1627.6 31.3M1621.6 29.3L1609.5 51.5M1527.7 294.7L1530.7 292.7M2253.3 24.2L2291.7 12.0M2208.3 39.2L2230.8 38.0M2209.2 46.7L2230.8 39.2M2220.0 89.2L2250.0 95.8L2330.0 89.2L2380.8 37.5M2330.0 89.2L2403.3 150.8M2250.0 95.8L2398.3 205.0M2394.2 86.7L2500.8 116.7M2268.3 240.0L2371.7 223.3L2411.7 198.3M2378.3 472.8L2358.3 538.7M2358.3 554.5L2388.3 559.5M2425.0 555.3L2443.3 598.7M2470.0 472.0L2470.8 511.2M2454.2 467.8L2490.0 476.2L2501.7 492.0M2490.0 476.2L2501.7 462.8M2349.2 579.5L2340.0 592.0M2190.0 356.2L2226.7 367.8L2275.8 341.2M2226.7 367.8L2290.8 508.7M1842.5 730.8L1899.5 720.0L1911.3 725.9M1899.5 720.0L1899.5 703.3M1846.4 672.8L1844.4 685.6M1826.7 659.0L1829.7 670.8M2120.8 600.0L2126.7 621.6M2302.0 714.7L2302.0 776.0M2233.8 871.9L2249.6 890.7L2265.4 893.6M2213.0 898.6L2249.6 890.7M2265.4 893.6L2261.5 937.1M2475.0 744.3L2500.7 759.2M2436.5 800.7L2500.7 800.7M2311.9 837.3L2320.8 847.2M2316.8 852.1L2305.0 900.5L2376.2 976.7L2438.4 975.7L2470.1 965.8L2500.7 922.3M2470.1 965.8L2500.7 982.0M2143.8 1049.1L2134.9 1069.1M2013.6 1027.9L2035.8 1021.2M1890.0 1159.2L1945.7 1194.8M1894.5 1009.0L1922.3 995.6M1888.9 1207.1L1920.1 1204.9L1923.4 1198.2M1920.1 1204.9L1924.5 1210.4M2376.3 976.3L2366.3 1002.3M2436.3 976.3L2425.3 1002.3M2049.2 1127.0L2098.1 1224.9M1884.5 1251.6L1914.5 1306.1L1864.5 1313.9M1914.5 1306.1L1922.3 1313.9L1959.0 1336.2M1922.3 1313.9L1911.2 1344.0M2158.2 1202.6L2198.3 1213.8L2203.9 1199.3M2198.3 1213.8L2237.3 1268.3L2290.0 1229.3M2237.3 1268.3L2193.9 1370.0M2278.4 1192.6L2285.1 1231.6M2231.7 1193.7L2280.7 1104.7M2073.7 1248.3L2087.0 1249.4M1955.7 1342.8L1991.3 1370.0M2231.1 1193.6L2279.0 1105.7M2157.7 1201.4L2197.7 1213.7L2203.3 1198.1M2197.7 1213.7L2236.7 1268.2L2284.5 1231.5L2277.9 1192.5M2284.5 1231.5L2335.7 1215.9M2236.7 1268.2L2191.1 1377.3L2166.6 1379.5M2191.1 1377.3L2200.0 1405.1M2332.4 1173.6L2400.3 1118.0L2405.8 1087.9M2400.3 1118.0L2449.2 1219.2M2332.4 1187.0L2365.8 1228.1M2409.2 1247.0L2440.3 1238.1M2491.5 1293.8L2500.4 1318.3M2082.0 1193.6L2097.6 1224.8M2282.3 1090.1L2299.0 1109.1L2304.6 1124.6M2299.0 1109.1L2312.4 1107.9M2369.1 1000.0L2359.1 1033.4L2344.6 1042.3M2359.1 1033.4L2395.8 1064.5L2427.0 1000.0M2395.8 1064.5L2406.9 1076.8M2421.4 1073.4L2421.4 1086.8M2432.5 1070.1L2433.7 1091.3M1868.0 1313.0L1913.0 1306.3L1901.3 1288.0M1913.0 1306.3L1921.3 1314.7L1911.3 1343.0M1921.3 1314.7L1958.0 1334.7M1956.3 1344.7L2098.0 1456.3L2173.0 1414.7M2098.0 1456.3L2088.0 1533.0L1949.7 1548.0L1928.0 1536.3L1903.0 1538.0M1949.7 1548.0L1923.0 1589.7L1893.0 1586.3M1923.0 1589.7L1918.0 1658.0M2088.0 1533.0L2149.7 1609.7L2206.3 1608.0L2244.7 1574.7L2259.7 1541.3M2149.7 1609.7L2056.3 1760.7M2206.3 1608.0L2259.7 1648.0L2284.7 1631.3L2289.7 1599.7L2279.7 1583.0L2244.7 1574.7M2259.7 1648.0L2284.7 1704.7M2284.7 1631.3L2301.3 1631.3L2314.7 1638.0M2289.7 1599.7L2298.0 1598.0M2229.7 1288.0L2191.3 1377.3L2166.3 1379.7M2191.3 1377.3L2199.7 1403.0M2248.0 1481.3L2259.7 1489.7L2449.7 1464.7L2501.3 1388.0M2259.7 1489.7L2246.3 1508.0M2449.7 1464.7L2475.3 1492.0L2473.0 1609.7L2441.3 1653.0M2475.3 1492.0L2501.3 1489.7M2473.0 1609.7L2501.3 1618.0M2223.0 1773.0L2243.0 1825.3L2174.7 1841.3M2243.0 1825.3L2249.7 1833.0L2241.3 1896.3M2249.7 1833.0L2294.7 1868.0L2239.7 1896.3M2294.7 1868.0L2309.7 1874.7M2454.7 1713.0L2461.3 1749.7L2479.7 1746.3M2414.7 1661.3L2454.7 1713.0M2439.7 1676.3L2501.3 1668.0M32.3 1933.4L31.2 1967.9L12.2 1976.8M31.2 1967.9L94.6 2026.9M187.0 2011.3L184.7 2055.9L215.9 2057.0M184.7 2055.9L174.7 2074.8L224.8 2081.5M174.7 2074.8L156.9 2084.8L82.3 2073.7M156.9 2084.8L152.5 2111.5L180.3 2162.7M152.5 2111.5L138.0 2116.0L119.1 2186.1M34.5 2064.8L12.2 2121.5M239.3 2117.1L244.8 2116.0L259.3 2113.7L271.5 2105.9M261.5 2116.0L262.6 2133.8M276.0 2084.8L284.9 2082.6M272.6 2121.5L291.6 2124.9M104.6 2080.3L129.1 2095.9M316.0 1860.0L337.2 1921.2L430.0 1966.8M337.2 1921.2L223.7 1982.4M223.7 1982.4L214.8 2024.7M430.0 1986.9L379.5 2118.2M306.0 2103.7L362.8 2129.3M333.9 2200.5L342.8 2197.2M348.3 2230.6L360.6 2225.0M351.7 2206.1L381.7 2219.4L411.7 2218.3L422.9 2213.9M411.7 2218.3L416.2 2233.9L378.4 2243.9M306.7 2105.6L363.5 2127.9M438.1 2145.7L429.2 2202.4M351.3 2205.8L381.3 2219.1L413.6 2216.9L472.6 2193.5M499.3 2167.9L479.2 2193.5M491.5 2209.1L531.5 2194.7M532.6 2199.1L589.4 2243.6L626.1 2211.3M589.4 2243.6L590.5 2251.4M445.8 2268.1L534.9 2279.2M465.9 2245.8L530.4 2242.5L536.0 2238.1M534.9 2259.2L543.8 2258.1L539.3 2269.2M408.0 2298.1L435.8 2299.3M408.0 2304.8L421.4 2312.6L436.9 2301.5M421.4 2312.6L422.5 2337.1M402.4 2314.8L419.1 2338.2M335.7 2201.3L342.3 2198.0M349.0 2230.3L360.2 2224.7M402.4 2060.0L380.2 2119.0M438.1 2133.4L438.1 2140.1M536.0 2162.4L605.0 2165.7L616.1 2161.3M390.2 2441.7L420.2 2455.1L455.9 2451.7L472.6 2440.6M420.2 2455.1L419.1 2468.4M455.9 2451.7L457.0 2458.4M475.9 2445.0L636.1 2369.4M551.6 2376.0L627.2 2292.6M442.5 2331.5L451.4 2351.6M428.0 2344.9L460.3 2358.2M601.6 2471.7L603.9 2490.0M12.2 2233.3L49.0 2251.2L87.9 2215.5M49.0 2251.2L56.8 2307.9L12.2 2330.2M56.8 2307.9L102.4 2309.0L150.2 2250.0M102.4 2309.0L197.0 2472.6L204.8 2473.7M197.0 2472.6L175.8 2500.4M224.8 2444.8L270.4 2474.8L378.4 2464.8L366.1 2369.1M270.4 2474.8L274.9 2500.4M183.6 2491.5L191.4 2498.2M390.6 2442.6L420.7 2455.9L430.0 2453.7M420.7 2455.9L419.5 2469.3M626.7 2253.4L655.6 2261.2M648.9 2270.1L795.8 2266.3L800.3 2231.1M795.8 2266.3L811.4 2275.2L841.5 2257.8M811.4 2275.2L840.3 2500.4M968.3 2423.6L1050.0 2432.5M979.4 2340.2L985.0 2366.9M913.8 2214.4L929.4 2227.8M956.1 2214.4L961.6 2242.2M969.4 2213.3L981.7 2234.5M981.7 2224.4L996.1 2217.8M918.2 2260.1L927.1 2255.6M913.8 2498.2L937.2 2491.5L946.1 2488.2M937.2 2491.5L939.4 2500.4M656.7 2123.2L667.9 2146.5L770.2 2147.7L788.0 2102.0M667.9 2146.5L658.9 2162.1L630.0 2169.9L620.0 2162.1M658.9 2162.1L664.5 2208.9M630.0 2169.9L622.2 2208.9M638.9 2138.8L656.7 2159.9M770.2 2147.7L781.4 2161.0L809.2 2154.3M781.4 2161.0L785.8 2191.1L818.1 2184.4M785.8 2191.1L785.8 2208.9M815.9 2193.3L820.3 2197.7L819.2 2208.9M820.3 2197.7L827.0 2196.6M825.9 2082.0L835.9 2102.0L842.6 2105.4L881.5 2100.9L899.3 2084.2M835.9 2102.0L807.0 2123.2L799.2 2123.2M807.0 2123.2L825.9 2135.4L842.6 2105.4M825.9 2135.4L823.6 2152.1L813.6 2156.6M823.6 2152.1L863.7 2187.7L929.4 2151.0M881.5 2100.9L929.4 2149.9M863.7 2187.7L862.6 2203.3L858.1 2208.9M1010.6 2082.0L1011.7 2097.6L997.3 2129.9L930.5 2141.0M1011.7 2097.6L1050.0 2118.7M997.3 2129.9L1007.3 2144.3L1050.0 2134.3M1007.3 2144.3L1002.8 2204.4M2366.7 1866.7L2352.5 1898.3M2305.8 1938.3L2348.3 1957.5L2346.7 1986.7M2406.7 1851.7L2406.7 1864.2M2406.7 1851.7L2414.2 1858.3L2420.0 1857.5L2431.7 1841.7M2414.2 1858.3L2408.3 1863.3M2420.0 1857.5L2419.2 1870.0M2457.5 1831.7L2465.0 1833.3L2479.2 1823.3L2500.8 1826.7M2465.0 1833.3L2495.8 1883.3L2500.8 1880.0M2495.8 1883.3L2500.8 1896.7M2410.0 1988.3L2480.0 1943.3L2500.8 1933.3M2456.7 1961.7L2500.8 1926.7M2289.2 1990.0L2333.3 2108.3M2480.0 2088.3L2500.8 2086.7M2267.5 2085.0L2277.5 2090.8M2190.0 1960.8L2215.0 1965.0M2245.0 2122.0L2251.7 2113.3M2286.2 2139.5L2293.1 2186.0M2380.1 2196.9L2361.3 2284.9L2339.6 2380.8M2361.3 2284.9L2422.6 2376.8M2338.6 2395.6L2500.7 2366.9M2261.5 2277.0L2304.0 2299.7L2250.6 2306.6M2237.8 2354.1L2288.2 2333.3M2334.6 2402.5L2333.7 2434.2L2313.9 2425.3M2333.7 2434.2L2370.2 2441.1L2404.8 2427.2M2370.2 2441.1L2385.1 2482.0M2333.7 2434.2L2313.9 2471.7M2271.4 2446.0L2277.3 2455.9L2297.1 2445.0M2286.2 2465.8L2302.0 2453.9M2259.5 2439.1L2240.7 2482.0L2232.8 2500.4M2251.6 2114.8L2223.9 2150.4L2179.4 2177.1L2156.7 2184.0L2130.0 2173.2M2223.9 2150.4L2246.7 2166.2M2179.4 2177.1L2182.4 2197.9L2174.5 2203.8M2182.4 2197.9L2190.3 2207.8L2227.9 2215.7M2190.3 2207.8L2183.4 2216.7L2200.2 2249.3L2207.1 2270.0M2200.2 2249.3L2216.0 2248.3M2244.7 2177.1L2284.2 2186.0M2232.8 2207.8L2272.4 2223.6M266.7 127.7L423.3 180.0L470.0 146.7L439.3 12.7M470.0 146.7L511.0 146.7L580.0 12.7M511.0 146.7L609.3 351.0L644.0 345.0M609.3 351.0L600.0 362.3L449.3 355.7L423.3 180.0M449.3 355.7L389.0 435.0L350.7 450.7L290.0 452.3L140.0 315.0M389.0 435.0L390.0 443.3L392.7 465.0M350.7 450.7L375.0 457.3L392.7 465.0L454.0 532.7L572.7 507.3L600.0 362.3M375.0 457.3L379.0 440.0L389.0 442.7M572.7 507.3L644.0 596.7M454.0 532.7L423.3 644.0M290.0 452.3L183.3 609.0L12.7 570.0M183.3 609.0L196.7 644.0M833.0 12.7L895.7 164.0L1072.3 93.3L1068.0 12.7M1072.3 93.3L1126.3 110.0L1154.7 78.3L1156.7 48.3M1154.7 78.3L1179.7 64.0M1126.3 110.0L1225.7 250.7L1288.0 196.7M1225.7 250.7L1225.7 333.3L1288.0 356.7M1225.7 333.3L1074.7 456.0L937.3 430.7L846.3 311.3L895.7 164.0M846.3 311.3L644.0 345.7M937.3 430.7L940.0 516.0L1063.3 519.0L1074.7 456.0M1063.3 519.0L1122.3 644.0M940.0 516.0L860.7 644.0M644.0 596.7L682.3 644.0M1250.0 230.1L1293.4 190.8L1360.0 185.7M1293.4 190.8L1302.5 148.4M1425.6 231.1L1429.7 309.9L1493.2 290.7L1514.4 289.7M1493.2 290.7L1495.3 278.6M1429.7 309.9L1355.0 382.5L1250.0 341.1M1356.3 381.7L1399.7 605.0L1494.7 644.0M1399.7 605.0L1376.3 644.0M1699.7 480.0L1549.7 644.0M1288.0 356.7L1356.3 381.7M1770.0 644.0L1795.8 621.2M196.7 644.0L220.0 709.0L270.0 742.3L405.0 710.0L423.3 644.0M220.0 709.0L78.3 812.3M270.0 742.3L250.7 842.3L101.7 879.0M250.7 842.3L311.7 950.0L394.3 971.3L503.3 900.7L510.0 809.7L405.0 710.0M510.0 809.7L644.0 777.3M503.3 900.7L616.7 954.0L644.0 927.3M616.7 954.0L644.0 1064.0M311.7 950.0L281.7 1010.0L193.3 1029.0M281.7 1010.0L285.7 1018.0L379.3 1041.3L394.3 971.3M285.7 1018.0L233.3 1092.3M379.3 1041.3L400.0 1104.7L363.3 1132.3M400.0 1104.7L466.7 1134.0M12.7 1000.7L85.0 1035.7L156.7 975.7M85.0 1035.7L12.7 1056.7M85.0 1035.7L166.7 1138.3L248.3 1125.7M166.7 1138.3L35.0 1270.7L12.7 1264.0M35.0 1270.7L36.7 1288.0M677.3 644.0L702.3 669.0L847.3 664.0L860.7 644.0M702.3 669.0L647.3 775.7L644.0 777.3M647.3 775.7L693.3 874.0L827.3 904.0M693.3 874.0L664.0 904.0M847.3 664.0L897.3 743.3L1137.3 716.7L1147.3 694.0L1124.0 644.0M1147.3 694.0L1288.0 673.3M897.3 743.3L827.3 904.0L837.3 954.0L807.3 1000.7L760.7 1074.0L644.0 1075.7M837.3 954.0L882.3 987.3L1010.7 1078.3L1117.3 1062.3L1142.3 1046.3L1174.0 980.7L1217.3 881.3L1137.3 716.7M1217.3 881.3L1288.0 887.3M760.7 1074.0L839.0 1165.7L880.7 1194.0L985.7 1169.7L1010.7 1078.3M985.7 1169.7L1045.7 1210.7L1144.0 1148.0L1117.3 1062.3M1045.7 1210.7L1045.7 1288.0M1142.3 1046.3L1207.3 1107.3L1288.0 1080.7M1207.3 1107.3L1214.0 1110.7L1215.7 1147.3L1144.0 1148.0M1215.7 1147.3L1288.0 1190.7M845.7 1267.3L834.0 1288.0M1288.0 674.0L1359.7 662.3L1374.7 644.0M1359.7 662.3L1411.3 771.7L1474.7 771.3L1525.3 686.7L1511.3 650.7M1525.3 686.7L1558.0 672.3L1549.7 644.0M1511.3 650.7L1521.3 670.7L1536.3 647.3M1558.0 672.3L1674.0 730.0L1769.7 644.0M1674.0 730.0L1694.7 785.0L1843.0 766.3M1694.7 785.0L1678.7 857.3L1869.7 876.3M1678.7 857.3L1667.3 869.0L1579.7 890.7L1474.7 771.3M1411.3 771.7L1312.0 890.7L1288.0 889.0M1312.0 890.7L1382.0 1041.3M1579.7 890.7L1581.3 926.3L1646.3 931.3L1667.3 869.0M1646.3 931.3L1685.3 1045.0L1866.3 1036.7M1581.3 926.3L1539.7 999.0L1465.3 1040.0L1382.0 1041.3L1288.0 1080.7M1539.7 999.0L1587.0 1077.3L1670.7 1069.7L1685.3 1045.0M1465.3 1040.0L1532.0 1115.0L1587.0 1077.3M1670.7 1069.7L1781.3 1225.7M1532.0 1115.0L1488.0 1217.3M1382.0 1041.3L1386.3 1167.3L1311.3 1217.3L1288.0 1207.3M1386.3 1167.3L1521.3 1264.0M398.3 1367.3L518.3 1297.3L587.3 1309.7L588.3 1288.0M518.3 1297.3L516.7 1288.0M587.3 1309.7L615.0 1343.0L644.0 1346.3M615.0 1343.0L541.7 1525.3L493.3 1525.3M541.7 1525.3L509.3 1549.7M541.7 1525.3L621.7 1604.7L644.0 1603.0M621.7 1604.7L593.3 1678.0M632.7 1688.0L627.7 1715.7L644.0 1714.7M627.7 1715.7L615.0 1728.0M40.0 1288.0L90.0 1385.3L269.3 1396.3L355.0 1304.7M90.0 1385.3L12.7 1437.0M269.3 1396.3L379.0 1544.7L476.7 1505.3M379.0 1544.7L355.7 1682.0L206.7 1793.0L45.7 1734.7L12.7 1701.3M45.7 1734.7L26.7 1759.7M206.7 1793.0L207.3 1799.7M355.7 1682.0L411.7 1727.0M360.0 1688.0L376.0 1739.7M563.3 1646.3L553.3 1676.3M288.3 1773.0L336.7 1921.3L316.7 1932.0M336.7 1921.3L360.0 1932.0M440.0 1718.0L433.3 1932.0M528.3 1686.3L611.7 1728.0M644.0 1347.3L804.7 1369.0L834.7 1288.0M804.7 1369.0L835.7 1414.0L1040.7 1428.0L1044.0 1288.0M835.7 1414.0L769.7 1593.0L644.0 1603.0M769.7 1593.0L800.0 1670.3L780.7 1715.3M800.0 1670.3L865.7 1718.0M1040.7 1428.0L1057.3 1445.3L1190.7 1474.0L1288.0 1423.0M1057.3 1445.3L1059.7 1670.3M1190.7 1474.0L1219.0 1631.3M682.3 1698.7L677.3 1713.0L644.0 1715.3M677.3 1713.0L690.7 1762.0L651.3 1786.3M690.7 1762.0L720.0 1775.3L762.3 1729.7L762.3 1715.3M762.3 1729.7L773.3 1745.7L834.0 1732.3M773.3 1745.7L759.7 1776.3L721.3 1779.0L697.3 1837.3L683.3 1837.3M721.3 1779.0L720.0 1775.3M759.7 1776.3L803.3 1831.3L835.7 1827.3M803.3 1831.3L790.7 1863.7L699.0 1846.3L697.3 1837.3M790.7 1863.7L835.7 1867.3M790.7 1863.7L788.0 1878.0L734.0 1919.7M788.0 1878.0L810.7 1892.0L836.7 1884.7M810.7 1892.0L820.7 1932.0M699.0 1846.3L694.0 1853.0M1017.3 1682.0L1040.7 1797.3L847.3 1857.0L837.3 1848.0M847.3 1857.0L837.3 1876.3M1040.7 1797.3L1107.3 1850.7L1145.7 1846.3L1272.3 1672.3L1266.7 1622.3M1272.3 1672.3L1288.0 1689.7M1107.3 1850.7L1092.3 1932.0M1145.7 1846.3L1254.0 1932.0M1344.7 1296.3L1356.3 1288.0M1344.7 1296.3L1311.3 1410.3L1288.0 1423.0M1311.3 1410.3L1438.0 1578.0M1553.0 1288.0L1634.7 1357.0L1679.7 1351.3M1634.7 1357.0L1641.3 1399.7M1484.7 1568.7L1536.3 1604.7M1563.0 1644.7L1554.7 1756.3M1288.0 1690.3L1429.7 1857.0M1698.0 1333.0L1709.7 1341.3L1760.7 1338.7L1768.0 1325.3L1763.0 1288.0M1768.0 1325.3L1809.7 1331.3L1827.3 1306.3L1811.3 1288.0M1827.3 1306.3L1864.7 1308.0M1809.7 1331.3L1810.7 1346.3L1848.0 1361.3M1810.7 1346.3L1798.0 1354.7L1771.3 1354.0L1760.7 1338.7M1771.3 1354.0L1770.7 1384.7L1719.7 1405.3L1709.7 1341.3M1798.0 1354.7L1788.0 1368.0L1784.7 1388.0L1770.7 1384.7M1788.0 1368.0L1773.0 1365.3M1784.7 1388.0L1791.3 1400.3L1836.3 1403.0M1791.3 1400.3L1793.7 1423.0L1763.7 1443.7L1748.0 1441.3M1793.7 1423.0L1795.7 1427.3L1824.7 1432.0M1795.7 1427.3L1796.3 1444.7L1769.7 1465.3L1763.7 1443.7M1796.3 1444.7L1819.7 1461.3M1769.7 1465.3L1773.0 1474.7L1814.0 1479.0M1773.0 1474.7L1780.7 1572.0M1719.7 1405.3L1714.7 1414.7L1656.3 1408.7L1631.3 1413.7M1656.3 1408.7L1648.0 1391.3M1714.7 1414.7L1769.7 1465.3M1568.0 1491.3L1589.7 1589.7L1544.7 1612.0M1589.7 1589.7L1637.3 1629.7L1669.7 1633.0L1709.7 1629.0M1637.3 1629.7L1589.7 1678.7M1637.3 1629.7L1668.0 1663.0M1669.7 1633.0L1669.7 1661.3M1598.0 1693.0L1619.7 1703.0M434.0 1888.0L432.7 1966.3L516.7 1981.3L510.0 2013.0M835.7 2013.0L819.7 2029.7M819.7 2029.7L805.7 2019.7M819.7 2029.7L814.0 2057.3M814.0 2057.3L775.7 2058.0M814.0 2057.3L827.0 2083.0M898.9 2083.0L902.3 2079.7M902.3 2079.7L907.3 2048.0M907.3 2048.0L897.3 2026.3M897.3 2026.3L835.7 2013.0M907.3 2048.0L929.0 2048.0M902.3 2079.7L922.8 2083.0M897.3 2026.3L902.3 2029.7M902.3 2029.7L929.0 2027.3M1007.3 2048.0L1010.1 2083.0M1075.7 2060.7L1070.4 2083.0M787.3 2004.7L799.0 2024.7M1104.0 1868.0L1069.0 2054.7M1174.0 1868.0L1288.0 1961.3M787.3 1868.0L789.0 1878.0L734.0 1919.7M789.0 1878.0L810.7 1891.3L837.3 1884.7M810.7 1891.3L824.0 1947.0L837.3 1949.7M824.0 1947.0L770.0 1980.7M725.7 1916.3L712.3 2064.7M1655.8 960.0L1684.9 1045.4L1866.2 1036.0M1684.9 1045.4L1669.9 1069.5L1640.0 1072.7M1669.9 1069.5L1782.6 1226.2M1851.2 1089.9L1875.9 1093.8L1886.4 1092.0M1875.9 1093.8L1886.4 1100.8M1829.2 1161.6L1884.7 1162.4M1828.4 1180.9L1816.9 1195.9L1811.6 1194.1M1816.9 1195.9L1824.5 1226.7L1882.0 1236.4M1824.5 1226.7L1805.1 1239.0L1786.1 1224.9M1805.1 1239.0L1797.2 1253.1L1774.7 1238.1M1797.2 1253.1L1796.3 1270.7L1762.3 1283.5L1746.5 1273.3M1762.3 1283.5L1765.0 1300.1M1796.3 1270.7L1821.3 1300.1M1359.7 2016.3L1403.0 1983.0M1403.0 1983.0L1436.3 1970.7M1436.3 1970.7L1548.0 1987.0M1548.0 1987.0L1603.0 2054.7M1603.0 2054.7L1609.7 2073.0M1609.7 2073.0L1614.7 2098.0M1601.3 2173.0L1554.7 2234.7M1554.7 2234.7L1528.0 2249.7M1528.0 2249.7L1509.7 2256.3M1509.7 2256.3L1468.0 2260.7M1468.0 2260.7L1448.0 2259.7M1448.0 2259.7L1374.0 2233.0M1374.0 2233.0L1326.3 2137.3M1326.3 2137.3L1359.7 2016.3M1288.0 2138.0L1326.3 2137.3M1359.7 2016.3L1344.7 1998.0M1344.7 1998.0L1298.0 1971.3M1298.0 1971.3L1288.0 1969.7M1344.7 1998.0L1394.7 1964.7M1394.7 1964.7L1380.1 1932.0M1394.7 1964.7L1403.0 1983.0M1394.7 1964.7L1406.3 1968.0M1406.3 1968.0L1413.0 1967.3M1413.0 1967.3L1428.0 1955.3M1428.0 1955.3L1424.9 1932.0M1406.3 1968.0L1406.3 1981.3M1428.0 1955.3L1436.3 1970.7M1548.0 1987.0L1574.5 1932.0M1671.5 1932.0L1695.3 1971.3M1695.3 1971.3L1697.3 1994.0M1697.3 1994.0L1673.0 2041.3M1673.0 2041.3L1667.3 2048.0M1667.3 2048.0L1616.3 2057.0M1616.3 2057.0L1603.0 2054.7M1695.3 1971.3L1714.7 1984.0M1714.7 1984.0L1697.3 1994.0M1714.7 1984.0L1784.7 1982.3M1784.7 1982.3L1809.7 1963.7M1809.7 1963.7L1816.2 1932.0M1859.0 1932.0L1871.3 1961.3M1871.3 1961.3L1883.0 1966.3M1883.0 1966.3L1908.0 1967.3M1908.0 1967.3L1932.0 1944.7M1809.7 1963.7L1848.0 1977.3M1848.0 1977.3L1871.3 1961.3M1673.0 2041.3L1680.7 2084.7M1680.7 2084.7L1641.3 2104.7M1616.3 2057.0L1609.7 2073.0M1680.7 2084.7L1684.7 2092.0M1684.7 2092.0L1704.7 2114.0M1704.7 2114.0L1814.7 2107.0M1814.7 2107.0L1828.7 2083.0M1828.7 2083.0L1830.7 2058.0M1830.7 2058.0L1824.7 2028.0M1824.7 2028.0L1784.7 1982.3M1814.7 2107.0L1876.3 2117.3M1876.3 2117.3L1911.3 2104.7M1911.3 2104.7L1923.0 2063.0M1923.0 2063.0L1913.0 2041.3M1913.0 2041.3L1908.0 2031.3M1908.0 2031.3L1886.3 2024.0M1886.3 2024.0L1868.0 2024.0M1868.0 2024.0L1841.3 2038.0M1841.3 2038.0L1830.7 2058.0M1848.0 1977.3L1848.0 1998.0M1848.0 1998.0L1858.0 1998.7M1858.0 1998.7L1868.0 1981.3M1868.0 1981.3L1883.0 1966.3M1858.0 1998.7L1868.0 2024.0M1824.7 2028.0L1821.3 2016.3M1821.3 2016.3L1834.7 2012.0M1834.7 2012.0L1838.0 2029.7M1838.0 2029.7L1824.7 2028.0M1834.7 2012.0L1848.0 1998.0M1886.3 2024.0L1901.3 1999.7M1901.3 1999.7L1908.0 1967.3M1901.3 1999.7L1926.3 1991.3M1926.3 1991.3L1932.0 1993.0M1908.0 2031.3L1913.0 2001.3M1876.3 2117.3L1898.7 2189.7M1898.7 2189.7L1932.0 2166.3M1898.7 2189.7L1873.0 2273.0M1846.3 2366.3L1803.0 2385.7M1803.0 2385.7L1761.3 2373.0M1911.3 2104.7L1932.0 2134.7M1601.3 2173.0L1638.0 2176.3M1638.0 2176.3L1624.7 2263.0M1624.7 2263.0L1568.0 2252.3M1568.0 2252.3L1554.7 2234.7M1638.0 2176.3L1646.3 2158.0M1568.0 2252.3L1558.0 2269.7M1558.0 2269.7L1528.0 2249.7M1624.7 2263.0L1631.3 2293.0M1631.3 2293.0L1624.7 2298.0M1624.7 2298.0L1624.0 2368.0M1624.0 2368.0L1666.3 2343.0M1509.7 2256.3L1514.7 2298.0M1514.7 2298.0L1533.0 2309.7M1533.0 2309.7L1624.7 2298.0M1468.0 2260.7L1461.3 2274.7M1461.3 2274.7L1448.0 2259.7M1533.0 2309.7L1534.7 2359.7M1534.7 2359.7L1506.3 2366.3M1506.3 2366.3L1496.3 2366.3M1496.3 2366.3L1466.3 2360.7M1466.3 2360.7L1398.0 2413.7M1398.0 2413.7L1362.0 2404.7M1362.0 2404.7L1313.0 2298.0M1313.0 2298.0L1374.0 2233.0M1313.0 2298.0L1288.0 2293.0M1534.7 2359.7L1566.3 2381.3M1566.3 2381.3L1588.0 2383.0M1588.0 2383.0L1624.0 2368.0M1506.3 2366.3L1510.7 2381.3M1510.7 2381.3L1534.7 2362.3M1510.7 2381.3L1520.7 2428.0M1520.7 2428.0L1554.7 2422.0M1554.7 2422.0L1565.3 2405.3M1565.3 2405.3L1566.3 2381.3M1565.3 2405.3L1589.7 2414.7M1589.7 2414.7L1588.0 2383.0M1589.7 2414.7L1596.3 2412.0M1596.3 2412.0L1604.7 2413.0M1604.7 2413.0L1623.0 2371.3M1589.7 2414.7L1578.0 2432.0M1578.0 2432.0L1554.7 2422.0M1578.0 2432.0L1604.7 2465.7M1604.7 2465.7L1604.7 2413.0M1520.7 2428.0L1502.0 2454.7M1502.0 2454.7L1485.3 2462.0M1485.3 2462.0L1398.0 2416.3M1502.0 2454.7L1509.7 2491.3M1509.7 2491.3L1481.3 2494.7M1481.3 2494.7L1485.3 2462.0M1509.7 2491.3L1514.7 2500.3M1604.7 2465.7L1588.0 2500.3M1604.7 2465.7L1628.0 2500.3M1398.0 2416.3L1389.7 2500.3M1362.0 2404.7L1299.7 2494.0M1299.7 2494.0L1288.0 2498.0M1803.0 2385.7L1794.7 2455.3M1794.7 2455.3L1768.0 2500.3M1794.7 2455.3L1823.0 2500.3M1846.3 2366.3L1932.0 2484.7M1666.3 2343.0L1761.3 2373.0M1794.7 1626.3L1814.0 1676.3L1843.0 1638.0M1814.0 1676.3L1824.0 1716.3L1791.3 1713.7L1781.3 1721.3L1715.3 1719.7L1703.0 1698.7L1702.3 1642.0M1703.0 1698.7L1661.3 1674.7M1715.3 1719.7L1704.7 1762.0L1623.0 1782.3L1581.3 1740.7M1623.0 1782.3L1619.7 1863.0L1568.0 1890.3L1498.0 1848.0L1494.0 1812.0M1498.0 1848.0L1474.7 1827.3M1498.0 1848.0L1431.3 1894.7L1413.0 1879.7L1388.0 1889.7M1431.3 1894.7L1423.7 1918.0L1396.3 1909.7L1413.0 1879.7M1396.3 1909.7L1378.0 1928.0L1362.0 1918.0M1568.0 1890.3L1578.0 1932.0M1619.7 1863.0L1639.7 1883.0L1668.0 1892.0L1740.7 1836.3L1739.7 1801.3L1704.7 1762.0M1639.7 1883.0L1635.7 1913.0L1664.7 1921.3L1668.0 1892.0M1739.7 1801.3L1768.0 1797.3L1774.7 1803.0L1769.7 1838.7L1740.7 1836.3M1768.0 1797.3L1779.7 1790.7L1788.0 1780.3L1793.7 1743.0L1781.3 1721.3M1793.7 1743.0L1809.7 1738.0L1811.3 1730.7L1791.3 1713.7M1809.7 1738.0L1832.0 1750.3L1843.0 1736.3L1824.0 1716.3M1843.0 1736.3L1918.0 1724.0L1932.0 1684.7M1832.0 1750.3L1825.3 1786.3L1803.0 1791.3L1788.0 1780.3M1803.0 1791.3L1801.3 1799.7L1774.7 1803.0M1801.3 1799.7L1815.3 1821.3L1834.0 1815.3L1825.3 1786.3M1815.3 1821.3L1799.7 1844.0L1784.7 1845.3L1769.7 1838.7M1799.7 1844.0L1798.0 1856.3L1825.3 1891.3L1844.0 1893.7L1872.0 1864.7L1834.0 1815.3M1872.0 1864.7L1871.3 1842.0L1883.0 1840.7L1903.0 1839.7L1916.3 1834.7L1932.0 1768.0M1883.0 1840.7L1884.7 1859.7L1904.7 1858.0L1903.0 1839.7M1904.7 1858.0L1914.7 1861.3L1932.0 1911.3M1825.3 1891.3L1814.7 1932.0M1844.0 1893.7L1859.7 1932.0M1934.7 1678.0L1932.0 1685.5M1932.0 1737.3L1944.7 1748.7M1944.7 1748.7L1966.3 1743.0M1966.3 1743.0L1981.3 1711.3M1944.7 1748.7L1951.3 1771.3M1951.3 1771.3L1971.3 1758.7M1971.3 1758.7L1966.3 1743.0M1971.3 1758.7L2026.3 1744.7M1951.3 1771.3L1932.0 1806.3M1932.0 1898.1L1948.0 1932.0M2133.0 1824.7L2134.7 1872.0M2134.7 1872.0L2188.0 1864.7M2134.7 1872.0L2111.3 1932.0M1945.2 1932.0L1948.0 1938.7M1948.0 1938.7L1932.0 1952.4M1948.0 1938.7L1961.3 1949.7M1961.3 1949.7L2058.0 1970.3M2058.0 1970.3L2103.0 1946.3M2103.0 1946.3L2109.2 1932.0M2103.0 1946.3L2214.7 1964.7M2058.0 1970.3L2022.3 2053.7M2022.3 2053.7L1954.0 2039.7M1954.0 2039.7L1945.3 2029.0M1945.3 2029.0L1961.3 1949.7M1954.0 2039.7L1944.7 2044.7M1944.7 2044.7L1938.0 2049.7M1938.0 2049.7L1933.0 2041.3M1933.0 2041.3L1939.7 2036.3M1939.7 2036.3L1945.3 2029.0M2022.3 2053.7L2038.0 2134.0M2038.0 2134.0L1947.0 2156.3M1947.0 2156.3L1932.0 2134.9M1932.0 2041.3L1933.0 2041.3M1947.0 2156.3L1932.0 2166.7M2038.0 2134.0L2156.3 2183.7M2156.3 2183.7L2179.7 2178.0M2179.7 2178.0L2223.0 2150.3M2223.0 2150.3L2252.0 2113.0M2223.0 2150.3L2246.3 2166.3M2179.7 2178.0L2183.0 2198.0M2183.0 2198.0L2174.0 2203.0M2174.0 2203.0L2156.3 2183.7M2183.0 2198.0L2189.7 2208.0M2189.7 2208.0L2226.3 2215.3M2189.7 2208.0L2183.0 2216.3M2183.0 2216.3L2199.7 2248.0M2199.7 2248.0L2214.7 2248.0M2199.7 2248.0L2207.3 2269.7M1932.0 2477.5L1948.0 2500.3M2091.3 2500.3L2126.3 2484.7M1186.7 2061.3L1189.7 2087.3L1164.0 2078.7M1189.7 2087.3L1224.7 2140.7L1288.0 2138.0M1224.7 2140.7L1193.3 2193.0L1101.3 2181.3L1090.7 2151.3L1090.0 2144.7M1090.7 2151.3L1067.3 2158.0M1193.3 2193.0L1224.7 2283.0L1288.0 2294.7M1224.7 2283.0L1144.0 2353.0L1137.3 2368.0L1136.7 2402.0M1144.0 2353.0L1115.7 2349.7L1100.7 2344.7L1094.0 2334.7L1045.7 2379.7M1115.7 2349.7L1113.3 2366.3L1137.3 2368.0M1005.7 2218.0L1028.0 2228.7L1020.7 2264.0L1080.7 2274.7M1028.0 2228.7L1060.7 2211.3M1120.7 2431.3L1135.7 2461.3M1065.7 2434.7L1097.3 2456.3M1137.3 2403.0L1247.3 2500.3"/>
<path fill="none" stroke="#000" stroke-width="1.5" stroke-linejoin="round" stroke-linecap="round" d="M477.0 2116.0L437.0 2137.0M907.3 2209.7L930.0 2194.7L957.3 2209.7M1823.3 12.0L1822.5 47.5L1790.8 77.5L1751.7 57.5M1822.5 47.5L1873.3 95.0L1890.0 94.2M1873.3 95.0L1868.3 107.5M1790.8 77.5L1790.8 84.2M1918.3 39.2L1932.0 41.7M1862.5 107.5L1848.3 190.0M2066.2 12.0L2072.0 30.0L2058.7 90.8L2000.3 127.5M2072.0 30.0L2149.5 54.2L2205.3 53.3M2153.7 12.0L2149.5 54.2L2148.7 111.7M2058.7 90.8L2076.2 119.2M1955.3 108.3L2000.3 127.5M1774.2 437.0L1780.0 467.8M1962.0 577.0L1893.3 635.3M1306.5 12.1L1270.2 119.1M2490.0 250.0L2501.7 248.3M2491.3 262.0L2501.7 262.0M2480.0 293.3L2501.7 295.8M2215.8 12.0L2232.5 37.5M2335.0 477.8L2358.3 542.0L2344.2 573.7M1949.6 626.6L1969.3 628.5M1829.7 669.2L1926.0 689.5M1830.7 684.2L1919.2 707.2M2319.8 728.5L2323.8 726.5M2319.8 728.5L2320.8 758.2M2275.3 817.5L2308.0 833.3M2243.7 859.0L2262.5 869.9L2302.0 866.9M2262.5 869.9L2275.3 926.2L2293.1 926.2M2275.3 926.2L2264.5 938.1L2195.2 921.3M2264.5 938.1L2288.2 957.9M2454.3 613.8L2456.2 604.0M2337.6 834.3L2308.0 857.0M2112.6 940.0L2110.4 950.0L2024.7 1033.5M2110.4 950.0L2142.7 984.5M2123.7 1014.6L2154.9 1065.8M2138.2 996.8L2177.2 1061.3M2123.7 1014.6L2138.2 996.8L2143.8 985.6M1887.8 1179.3L1937.9 1200.4M2299.0 1055.6L2279.0 1100.2M2438.1 1244.8L2420.3 1253.7M2487.1 1266.0L2480.4 1282.7M327.2 2138.2L313.8 2159.4M326.8 2137.9L314.5 2159.0M499.3 2167.9L522.6 2213.6M530.4 2242.5L539.3 2277.0M1054.0 2478.2L1031.7 2500.4M2489.2 1991.7L2500.8 1983.3M2190.0 1871.7L2251.7 2088.3L2253.3 2122.0M2251.7 2088.3L2277.5 2082.5M2252.6 2100.0L2253.6 2148.4L2159.7 2396.6L2130.0 2467.8L2123.1 2500.0M2253.6 2148.4L2282.2 2158.3M2253.6 2138.6L2281.3 2135.6M1736.3 1614.7L1891.3 1645.3M2188.0 1864.7L2204.7 1932.0M2206.4 1932.0L2251.3 2088.0M2251.3 2088.0L2253.0 2149.7M1060.7 2161.3L1065.7 2208.0L1107.3 2378.0L1127.3 2421.3L1144.0 2456.3L1174.0 2500.3M1045.7 2176.3L1060.7 2196.3M1000.7 2208.0L1060.7 2197.3M1045.7 2389.7L1083.3 2385.3L1087.3 2421.3L1059.0 2431.3M1087.3 2421.3L1099.0 2428.0L1120.7 2423.0M1099.0 2428.0L1097.3 2464.7L1067.3 2471.3M1097.3 2464.7L1105.7 2472.0L1115.7 2474.0L1144.0 2456.3M1115.7 2474.0L1120.7 2500.3M1105.7 2472.0L1099.0 2500.3"/>
<path fill="none" stroke="#000" stroke-width="2.8" stroke-linejoin="round" stroke-linecap="round" d="M348.0 12.0L31.0 473.0L12.0 527.0M12.0 466.0L31.0 473.0M12.0 832.0L64.0 821.0M12.0 897.0L73.5 879.0L96.5 874.0M80.0 847.0L73.5 879.0M12.0 1791.0L124.5 1830.7L577.0 1670.0M124.5 1830.7L121.8 1844.0L121.8 1958.0M121.8 1844.0L45.0 1901.0M612.0 1728.0L477.0 2116.0L553.0 2183.0M12.0 730.0L779.0 2001.0M585.0 1680.0L644.0 1690.0L834.0 1726.0L1288.0 1615.0L1508.0 1561.0L1733.0 1288.0L1825.0 1177.0L1866.0 1037.0L1888.0 964.0M834.0 1726.0L839.0 2000.0L844.0 2012.0M1508.0 1561.0L1598.0 1693.0L1603.0 1715.0M779.0 2001.0L844.0 2012.0L1162.0 2075.0M779.0 2001.0L582.0 2192.0M810.7 2008.0L774.0 2064.7L832.3 2209.7M720.7 2058.0L774.0 2064.7M930.0 2031.3L930.0 2194.7M1050.7 2054.7L1062.3 2154.7M65.9 62.0L154.4 97.4L200.6 52.1M154.4 97.4L184.9 164.2M12.2 286.2L60.0 307.8M1745.0 73.3L1883.3 113.3L1930.0 150.0M1710.0 159.2L1848.3 190.0L1930.0 150.0M1848.3 190.0L1906.7 248.3M1926.7 12.0L1885.0 113.3M1947.0 12.0L1955.3 133.3L1932.0 150.0M1955.3 133.3L2218.7 105.8M2117.0 117.5L2237.0 177.5M1672.5 429.5L1801.7 437.8L1870.0 407.8L1883.3 355.3L1891.0 322.0L1906.7 248.3L1930.0 150.0M1870.0 407.8L1932.0 483.7M1801.7 437.8L1780.0 467.8L1740.0 528.7M1932.0 483.7L1965.3 527.0L2077.0 587.0M1965.3 527.0L1960.3 618.7M1299.5 12.1L1263.1 114.1M1559.0 12.1L1614.5 58.5L1650.9 127.2L1673.1 236.2L1631.7 286.6L1609.5 307.8L1576.2 326.0M1639.8 12.1L1614.5 57.5M1732.6 12.1L1650.9 127.2M1637.9 102.7L1531.8 295.7M1632.7 290.7L1648.8 299.8M1610.5 308.9L1636.7 332.1M2376.7 12.0L2411.7 182.5L2415.8 206.7L2352.5 250.0L2256.7 240.0M2352.5 250.0L2353.3 273.3L2476.7 297.5M2353.3 273.3L2340.8 281.7L2265.0 275.0M2340.8 281.7L2313.3 322.0L2285.8 357.8M2412.5 182.5L2501.7 155.0M2415.0 206.7L2486.7 223.3L2501.7 220.0M2486.7 223.3L2490.8 260.0L2476.7 297.5L2501.7 333.3M2262.5 12.0L2232.5 37.5L2213.3 64.2M2480.0 458.3L2501.7 428.3M2430.8 467.8L2444.2 492.8L2454.2 465.3M2444.2 492.8L2447.5 511.2L2477.5 511.2L2501.7 495.3M2480.0 512.0L2501.7 521.2M2447.5 511.2L2446.7 530.3L2460.0 598.7M2440.0 530.3L2361.7 580.3L2318.3 564.5M2361.7 580.3L2363.3 599.5M1947.7 625.6L1867.0 851.8M1969.3 619.7L1969.3 628.5L1997.8 672.8L2177.8 603.9M1997.8 672.8L1969.3 746.5L1904.4 752.4M1969.3 746.5L2111.9 935.4L2181.7 935.4M2111.9 935.4L2109.9 944.2L2077.5 980.0L2042.1 1016.0M2109.9 944.2L2140.4 980.0L2142.8 984.5M2178.4 603.0L2319.8 728.5M2178.4 603.0L2178.8 562.4M2319.8 758.2L2145.8 982.0L2086.1 1059.7M2345.5 604.9L2454.3 613.8L2500.7 649.4M2500.7 700.8L2418.7 825.4L2311.9 834.3M2418.7 825.4L2500.7 880.8M2054.7 1052.4L2059.2 1113.6M2064.8 1115.8L2089.2 1131.4L2124.9 1203.7L2287.3 1190.4M2098.1 1093.6L2089.2 1131.4M2124.9 1203.7L1933.4 1356.2L1864.5 1320.6M1933.4 1356.2L1931.2 1370.0M2082.6 1240.5L2158.2 1370.0M2253.9 1052.4L2278.4 1095.8M2088.7 1131.3L2125.4 1203.6L2286.8 1190.3L2500.4 1293.8M2125.4 1203.6L2082.0 1239.3M2082.0 1240.4L2182.2 1404.0M2097.6 1091.3L2088.7 1131.3M2253.4 1052.3L2279.0 1100.2L2295.7 1132.4L2286.8 1190.3M2296.8 1133.5L2324.6 1103.5L2349.1 1071.2M2324.6 1103.5L2333.5 1211.4M2500.4 1121.3L2438.1 1243.7L2487.1 1266.0L2500.4 1264.9M2283.4 1013.4L2406.9 1077.9L2500.4 1038.9M1933.0 1356.3L1884.7 1631.3M2111.3 1288.0L2329.7 1658.0L2428.0 1661.3L2501.3 1624.7M2329.7 1658.0L2166.3 1826.3M2428.0 1661.3L2479.7 1748.0M2298.0 1888.0L2501.3 1734.7M60.1 1918.3L41.2 1925.7L32.3 1933.4L12.2 1947.9M12.2 1893.4L41.2 1925.7M159.1 1991.8L38.9 2059.2L12.2 2042.5M38.9 2059.2L12.2 2074.8M84.6 2036.9L72.3 2201.6M205.9 2024.7L245.9 2140.4M274.9 2074.8L269.3 2131.5M12.2 2159.4L40.1 2183.8L72.3 2201.6M40.1 2183.8L28.9 2218.3M370.6 2122.6L359.4 2134.9L300.5 2138.2M359.4 2134.9L336.1 2186.1L328.3 2188.3M336.1 2186.1L398.4 2278.4L373.9 2289.6M370.2 2122.3L357.9 2135.2L303.4 2138.3M357.9 2135.2L336.8 2186.9L329.0 2188.6M336.8 2186.9L398.0 2279.2L376.8 2288.1M398.0 2279.2L408.0 2284.8L389.1 2312.6M408.0 2284.8L429.2 2282.6L451.4 2321.5M429.2 2282.6L465.9 2245.8L484.8 2219.8L522.6 2219.1L539.3 2181.3M522.6 2219.1L554.9 2269.2M460.3 2152.4L484.8 2219.8M403.6 2347.1L461.4 2354.9L474.8 2455.1L519.3 2490.0M461.4 2354.9L477.0 2314.8M388.0 2458.4L416.9 2469.5L474.8 2455.1M416.9 2469.5L415.8 2490.0M519.3 2486.2L645.0 2453.9M75.7 2205.5L396.2 2381.4M191.4 2500.4L296.7 2326.4M12.2 2440.3L26.7 2427.0M59.0 2471.5L28.9 2489.3L12.2 2482.6M28.9 2489.3L34.5 2500.4M703.5 2213.3L630.0 2287.9M775.8 2213.3L896.0 2286.8L1040.7 2383.6M896.0 2286.8L920.5 2262.3L981.7 2235.6L1002.8 2240.0M933.8 2213.3L920.5 2262.3M989.5 2353.5L942.7 2500.4M2327.5 1881.7L2330.0 1915.0L2293.3 1944.2L2261.7 1936.7M2293.3 1944.2L2296.7 1985.8M2330.0 1915.0L2350.0 1953.3L2368.3 1987.5M2379.2 1861.7L2406.7 1864.2L2461.7 1906.7L2500.8 1878.3M2461.7 1906.7L2473.3 1916.7L2456.7 1960.0L2444.2 1989.2M2284.2 2117.5L2475.8 2085.0L2495.0 2122.0M2481.7 1995.0L2475.8 2085.0M2458.3 2090.0L2446.7 2122.0M2456.2 2100.0L2420.7 2192.9M2485.9 2100.0L2500.7 2129.7M2345.5 2193.9L2296.1 2325.4L2338.6 2395.6L2406.8 2421.3L2420.7 2419.3L2480.0 2390.7L2500.7 2366.9M2247.6 2321.4L2296.1 2325.4M2338.6 2395.6L2297.1 2444.0L2268.4 2443.0M2297.1 2444.0L2315.9 2482.0L2323.8 2499.4M2406.8 2421.3L2394.9 2482.0L2392.0 2499.4M2420.7 2419.3L2500.7 2453.9M2480.0 2390.7L2500.7 2408.4M1824.0 1177.0L1884.0 1205.0"/>
<path fill="none" stroke="#000" stroke-width="4.7" stroke-linejoin="round" stroke-linecap="round" d="M1105.0 12.0L1288.0 134.0L1625.0 363.0L1818.0 644.0L1825.0 657.0L1866.0 852.0L1888.0 964.0L1893.0 981.0L1886.0 1194.0L1885.0 1243.0L1869.0 1288.0L1791.0 1566.0L1338.0 1932.0L1288.0 1975.0L997.0 2210.0L627.0 2208.0L538.0 2180.0L460.0 2151.0L372.0 2121.0L305.0 2096.0L277.0 2074.5L207.0 2023.0L158.0 1986.5L60.0 1913.7L12.0 1878.0M12.0 362.0L241.0 100.0L350.0 12.0M125.0 12.0L12.0 100.0M172.0 12.0L241.0 100.0L12.0 362.0M12.0 100.0L125.0 12.0M350.0 12.0L241.0 100.0L172.0 12.0M1768.0 12.0L1625.0 363.0L1288.0 134.0L1105.0 12.0M2198.0 12.0L2311.0 477.0L2285.0 533.0L2075.0 588.0L1868.0 644.0L1825.0 657.0L1818.0 644.0L1625.0 363.0L1768.0 12.0M2500.0 458.0L2311.0 477.0L2198.0 12.0M2311.0 477.0L2500.0 458.0M2500.0 600.0L2345.0 600.0L2285.0 533.0L2311.0 477.0M1825.0 657.0L1868.0 644.0L2075.0 588.0L2285.0 533.0L2345.0 600.0L2340.0 644.0L2278.0 1046.0L2116.0 1074.0L1893.0 981.0L1888.0 964.0L1866.0 852.0L1825.0 657.0M2345.0 600.0L2500.0 600.0M2500.0 1114.0L2278.0 1046.0L2340.0 644.0L2345.0 600.0M1893.0 981.0L2116.0 1074.0L2065.0 1116.0L1885.0 1243.0L1886.0 1194.0L1893.0 981.0M1885.0 1243.0L2065.0 1116.0L2116.0 1074.0L2278.0 1046.0L2500.0 1114.0M2500.0 1821.0L2251.0 1907.0L1868.0 1625.0L1791.0 1566.0L1869.0 1288.0L1885.0 1243.0M2251.0 1907.0L2500.0 1821.0M2500.0 1993.0L2275.0 1986.0L2251.0 1907.0M2275.0 1986.0L2500.0 1993.0M2500.0 2198.0L2285.0 2188.0L2275.0 1986.0M2285.0 2188.0L2500.0 2198.0M2306.0 2500.0L2223.0 2386.0L2285.0 2188.0M2223.0 2386.0L2306.0 2500.0M2148.0 2500.0L2223.0 2386.0M1791.0 1566.0L1868.0 1625.0L2251.0 1907.0L2275.0 1986.0L2285.0 2188.0L2223.0 2386.0L2148.0 2500.0M1072.0 2500.0L997.0 2210.0L1288.0 1975.0L1338.0 1932.0L1791.0 1566.0M997.0 2210.0L1072.0 2500.0M653.0 2500.0L622.0 2238.0L629.0 2210.0L997.0 2210.0M622.0 2240.0L653.0 2500.0M377.0 2500.0L403.0 2347.0L622.0 2240.0M305.0 2096.0L372.0 2121.0L460.0 2151.0L538.0 2180.0L627.0 2208.0L622.0 2240.0L403.0 2348.0L293.0 2128.0L305.0 2096.0M12.0 1878.0L60.0 1913.7L158.0 1986.5L207.0 2023.0L277.0 2074.5L305.0 2096.0L293.0 2128.0L12.0 2228.0M12.0 2228.0L293.0 2128.0L403.0 2348.0L377.0 2500.0M80.0 2500.0L12.0 2405.0M12.0 2405.0L80.0 2500.0"/>
<path fill="#000" fill-rule="evenodd" d="M0 0H2512V2512H0ZM12 12V2500H2500V12Z"/>
<text x="926.7" y="1030.2" font-size="226.0" style="fill:#1a1a1a">Protein</text>
<text x="925.5" y="1029.0" font-size="226.0">Protein</text>
<text x="918.7" y="1257.2" font-size="226.0" style="fill:#1a1a1a">metabolism</text>
<text x="917.5" y="1256.0" font-size="226.0">metabolism</text>
<text x="1523.0" y="131.2" font-size="88.7" style="fill:#1a1a1a">Redox</text>
<text x="1521.8" y="130.0" font-size="88.7">Redox</text>
<text x="1961.7" y="296.2" font-size="60.0" style="fill:#1a1a1a">Carbohydrate</text>
<text x="1960.5" y="295.0" font-size="60.0">Carbohydrate</text>
<text x="1965.0" y="356.2" font-size="60.0" style="fill:#1a1a1a">metabolism</text>
<text x="1963.8" y="355.0" font-size="60.0">metabolism</text>
<text x="2380.2" y="201.2" font-size="30.8" style="fill:#1a1a1a">Coenzyme</text>
<text x="2379.0" y="200.0" font-size="30.8">Coenzyme</text>
<text x="2382.9" y="232.0" font-size="30.8" style="fill:#1a1a1a">metabolism</text>
<text x="2381.7" y="230.8" font-size="30.8">metabolism</text>
<text x="2408.7" y="530.7" font-size="23.3" style="fill:#1a1a1a">Hormone</text>
<text x="2407.5" y="529.5" font-size="23.3">Hormone</text>
<text x="2408.7" y="554.9" font-size="23.3" style="fill:#1a1a1a">metabolism</text>
<text x="2407.5" y="553.7" font-size="23.3">metabolism</text>
<text x="2084.2" y="801.9" font-size="52.8" style="fill:#1a1a1a">Amino acid</text>
<text x="2083.0" y="800.7" font-size="52.8">Amino acid</text>
<text x="2084.2" y="855.2" font-size="52.8" style="fill:#1a1a1a">metabolism</text>
<text x="2083.0" y="854.0" font-size="52.8">metabolism</text>
<text x="2406.7" y="875.2" font-size="23.3" style="fill:#1a1a1a">Nucleotide</text>
<text x="2405.5" y="874.0" font-size="23.3">Nucleotide</text>
<text x="2406.7" y="900.2" font-size="23.3" style="fill:#1a1a1a">metabolism</text>
<text x="2405.5" y="899.0" font-size="23.3">metabolism</text>
<text x="1970.9" y="1110.5" font-size="53.5" style="fill:#1a1a1a">DNA</text>
<text x="1969.7" y="1109.3" font-size="53.5">DNA</text>
<text x="2172.5" y="1541.2" font-size="231.0" style="fill:#1a1a1a">Cell</text>
<text x="2171.3" y="1540.0" font-size="231.0">Cell</text>
<text x="2419.2" y="1951.7" font-size="67.8" style="fill:#1a1a1a">RNA</text>
<text x="2418.0" y="1950.5" font-size="67.8">RNA</text>
<text x="2395.0" y="2099.5" font-size="20.8" style="fill:#1a1a1a">Photosynthesis</text>
<text x="2393.8" y="2098.3" font-size="20.8">Photosynthesis</text>
<text x="2380.9" y="2350.3" font-size="32.1" style="fill:#1a1a1a">Secondary</text>
<text x="2379.7" y="2349.1" font-size="32.1">Secondary</text>
<text x="2381.9" y="2382.0" font-size="32.1" style="fill:#1a1a1a">metabolism</text>
<text x="2380.7" y="2380.8" font-size="32.1">metabolism</text>
<text x="2226.7" y="2475.9" font-size="15.2" style="fill:#1a1a1a">Nutrient</text>
<text x="2225.5" y="2474.7" font-size="15.2">Nutrient</text>
<text x="2227.5" y="2490.9" font-size="15.2" style="fill:#1a1a1a">uptake</text>
<text x="2226.3" y="2489.7" font-size="15.2">uptake</text>
<text x="1740.2" y="2204.2" font-size="148.0" style="fill:#1a1a1a">Not</text>
<text x="1739.0" y="2203.0" font-size="148.0">Not</text>
<text x="1719.2" y="2354.2" font-size="148.0" style="fill:#1a1a1a">assigned</text>
<text x="1718.0" y="2353.0" font-size="148.0">assigned</text>
<text x="828.5" y="2390.7" font-size="87.0" style="fill:#1a1a1a">Stress</text>
<text x="827.3" y="2389.5" font-size="87.0">Stress</text>
<text x="518.7" y="2410.6" font-size="35.0" style="fill:#1a1a1a">Signalling</text>
<text x="517.5" y="2409.4" font-size="35.0">Signalling</text>
<text x="447.2" y="2215.9" font-size="26.3" style="fill:#1a1a1a">Vesicle</text>
<text x="446.0" y="2214.7" font-size="26.3">Vesicle</text>
<text x="447.9" y="2241.5" font-size="26.3" style="fill:#1a1a1a">trafficking</text>
<text x="446.7" y="2240.3" font-size="26.3">trafficking</text>
<text x="198.4" y="2353.6" font-size="46.2" style="fill:#1a1a1a">Cellular</text>
<text x="197.2" y="2352.4" font-size="46.2">Cellular</text>
<text x="199.9" y="2400.4" font-size="46.2" style="fill:#1a1a1a">respiration</text>
<text x="198.7" y="2399.2" font-size="46.2">respiration</text>
<text x="118.7" y="2082.7" font-size="28.1" style="fill:#1a1a1a">Lipid</text>
<text x="117.5" y="2081.5" font-size="28.1">Lipid</text>
<text x="117.4" y="2111.6" font-size="28.1" style="fill:#1a1a1a">metabolism</text>
<text x="116.2" y="2110.4" font-size="28.1">metabolism</text>
<text x="43.8" y="37.6" font-size="12.2" style="fill:#1a1a1a">Storage</text>
<text x="42.6" y="36.4" font-size="12.2">Storage</text>
<text x="43.8" y="48.0" font-size="12.2" style="fill:#1a1a1a">proteins</text>
<text x="42.6" y="46.8" font-size="12.2">proteins</text>
<text x="32.9" y="2473.8" font-size="7.0" style="fill:#1a1a1a">Transport</text>
<text x="31.7" y="2472.6" font-size="7.0">Transport</text>
</svg></body></html>
